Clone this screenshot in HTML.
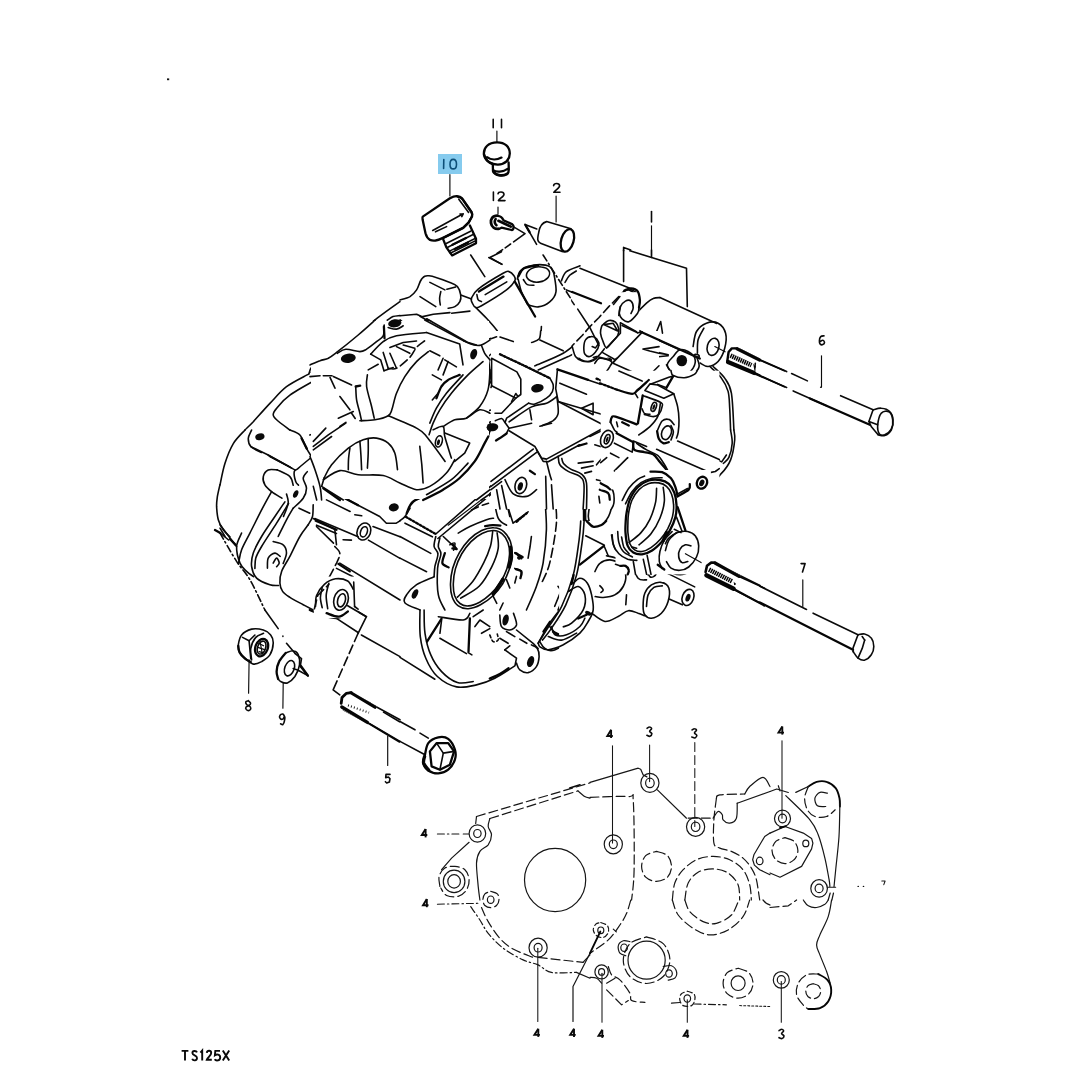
<!DOCTYPE html>
<html>
<head>
<meta charset="utf-8">
<title>TS125X Crankcase</title>
<style>
html,body{margin:0;padding:0;background:#fff;}
body{width:1082px;height:1082px;overflow:hidden;font-family:"Liberation Sans",sans-serif;}
svg{display:block;position:absolute;left:0;top:0;}
.l{fill:none;stroke:#0a0a0a;stroke-width:1.6;stroke-linecap:round;stroke-linejoin:round;}
.t{fill:none;stroke:#0a0a0a;stroke-width:1.15;stroke-linecap:round;stroke-linejoin:round;}
.b{fill:none;stroke:#050505;stroke-width:2.3;stroke-linecap:round;stroke-linejoin:round;}
.k{fill:#0a0a0a;stroke:none;}
.h{fill:none;stroke:#050505;stroke-width:3.3;stroke-linecap:round;stroke-linejoin:round;}
.f{fill:none;stroke:#0a0a0a;stroke-width:1.9;stroke-linecap:butt;stroke-linejoin:miter;}
.d{fill:none;stroke:#151515;stroke-width:1.1;stroke-linecap:butt;}
.n{fill:none;stroke:#0a0a0a;stroke-width:1.6;stroke-linecap:round;stroke-linejoin:round;}
.low .l{stroke-width:1.2;stroke:#161616;}
.low .b{stroke-width:1.9;}
.low .t{stroke-width:1.05;stroke:#161616;}
</style>
</head>
<body>
<svg width="1082" height="1082" viewBox="0 0 1082 1082">
<rect x="0" y="0" width="1082" height="1082" fill="#ffffff"/>
<!-- highlight -->
<rect x="438" y="154" width="24" height="20" fill="#86cbee"/>

<!-- ===== SECTION A: labels + top parts ===== -->
<g id="secA">
<!-- label 10 -->
<path class="n" style="stroke:#0d4f78" d="M443.8 159.6 L443.6 168.4 M453.2 159.4 C450.6 159.4 450 162 450 164.2 C450 166.8 450.8 168.9 453.2 168.9 C455.8 168.9 456.5 166.6 456.5 164.2 C456.5 161.6 455.8 159.4 453.2 159.4 Z"/>
<!-- label 11 -->
<path class="n" d="M493.2 119.4 L493.2 127.8 M501.5 119.4 L501.5 127.8"/>
<!-- label 12 -->
<path class="n" d="M493.4 192 L493.4 200.4 M498 193.8 C498.4 191.4 503.8 191.2 504 194.2 C504.1 196.6 499.6 198.4 498.4 200.6 L505 200.6"/>
<!-- label 2 -->
<path class="n" d="M553.6 185.6 C554 182.8 559.4 182.6 559.6 185.8 C559.7 188.2 555 190 553.8 192.3 L560 192.3"/>
<!-- leaders -->
<path class="t" d="M449.9 174.5 L449.9 196 M496.9 131 L496.9 142 M498 207 L498 213.8 M556.1 196 L556.1 222"/>

<!-- part 11 plug -->
<path class="b" d="M484 155 C483 147 489 142.5 497 142.4 C505 142.3 509.8 147 509.8 153.5 C509.8 160 505 164.5 498 164.6 C492 164.7 485.5 161.5 484 155 Z"/>
<path class="b" d="M484 154 C485 158.5 488 162.5 493 164.2 M487 157.2 C491 160.2 497 160 501.5 157.6"/>
<path class="b" d="M492.8 164.3 L493 171.2 C494.5 175.6 502 176.6 506.6 174.4 C508.4 173.4 508.9 171.4 508.8 169 L508.6 162.4 M493.2 170 C496 172.4 503 172.2 508 168.6"/>
<path class="b" d="M493.4 171.6 C496 175.6 503.6 176.4 507.6 173.4"/>

<!-- part 10 filler cap -->
<path class="b" d="M422.8 216.6 L449.9 198.3 C452.5 196.8 455 196 456.8 196.1 C459.4 196.4 461 197.2 462.1 198.3 L471.6 212.2 C472.4 213.6 472.4 215 472.1 216.2 L468.8 222.2 L463.2 227.7 L443.3 237.7 C440.5 239 438 240.2 435.5 240.5 C433.4 240.7 431.4 240.5 430 239.9 C427.6 238.6 426.2 236 425.5 233.3 L422.6 219.6 C422.4 218.4 422.4 217.4 422.8 216.6 Z"/>
<path class="b" d="M457.5 196.6 C460.2 197 461.8 198.2 462.8 199.6 L471.4 212 C472.4 213.8 472.4 215.4 471.8 216.8 L468.8 222.2"/>
<path class="b" d="M443.3 237.9 L463.2 227.9 L468.6 222.6"/>
<path class="l" d="M432.7 230.5 L463.2 213.8 L460 214 M463.2 213.8 L461.8 216.6 M435.5 231.8 L446.6 226.6 M458.8 199.2 L468.6 212.4"/>
<path class="b" d="M443.3 239.6 L446.4 247.4 L452.1 255.4 L476 243.2 L476 238.8 L469.9 225.5"/>
<path class="l" d="M445.2 244 L470.6 231.2 M446.8 247.8 L473.6 234.2 M449 251.4 L475.6 238.2 M450.2 253.2 L475.8 240.6"/>
<path class="b" d="M452.4 244.8 L466 238 M455 249 L468 242.6"/>

<!-- screw 12 -->
<path d="M497.6 215.6 C492.4 215.4 490.4 219.4 491 223 C491.6 227 495 229.2 498.6 228.8" fill="none" stroke="#050505" stroke-width="2.8" stroke-linecap="round"/>
<path class="b" d="M497.6 215.8 C500.6 216 502.6 218 503.4 220.2 L512.4 224.4 C514.2 225.6 514 229.8 511.6 230 L501.6 227.6 C500.6 228.4 499.6 228.8 498.6 228.8"/>
<path d="M495.6 219.2 C494.4 221.2 494.8 223.8 496.4 225.2 M498.4 220.8 L510.8 226.6" fill="none" stroke="#050505" stroke-width="2.6" stroke-linecap="round"/>
<path class="l" d="M513.2 226.6 L525 233.6 L513.6 241.8 M510.6 244 L505.2 247.8 M502.6 249.6 L497 253.4 M488.8 257.6 L502 264.3"/>

<!-- part 2 dowel -->
<path class="l" d="M546.6 221.6 C542.6 222.6 539.6 227 538.8 232.1 C538 235.6 537.6 238 537.8 239.9 C538 241.6 539 242.6 540.5 243.2 L562.1 251.6 M546.6 221.6 L571 228.8"/>
<ellipse class="b" cx="567.4" cy="240.4" rx="6.2" ry="11.6" transform="rotate(16 567.4 240.4)"/>
<path class="l" d="M525 224.4 L536.8 228.9 M525 224.4 L536.6 244.3"/>
<path class="b" d="M525.4 225 L529.6 232.2"/>
</g>

<!-- misc -->
<rect x="167" y="78.4" width="2.2" height="1.8" fill="#111"/>
<path fill="none" stroke="#0a0a0a" stroke-width="1.9" stroke-linecap="butt" stroke-linejoin="miter" d="M181.6 1050.9 H188.4 M185 1050.9 V1060.6 M197 1052.4 C196.2 1050.4 192.4 1050.3 192.4 1053 C192.4 1055.8 197 1055 197 1058 C197 1061 193 1061 192.2 1058.8 M200.4 1052.6 L202.2 1050.6 V1060.6 M206.8 1052.8 C207.2 1050.1 211.2 1050.1 211.2 1053 C211.2 1055.6 207.6 1057.4 206.8 1059.8 H211.8 M220 1050.9 H215.3 L214.9 1055.2 C216.6 1053.9 220.2 1054.2 220.2 1057.4 C220.2 1060.9 216 1061.1 214.6 1059.2 M222.8 1050.4 L229.2 1060.6 M229.2 1050.4 L222.8 1060.6"/>
<g id="t01">
<path class="l" d="M400.0 299.9C401.7 299.4 407.2 298.2 410.0 296.6C412.8 294.9 414.7 292.8 416.6 289.9C418.6 287.0 419.5 281.5 421.6 279.1C423.7 276.8 424.4 275.2 429.1 275.8C433.8 276.3 445.2 280.6 449.9 282.4C454.6 284.2 455.6 284.5 457.4 286.6C459.2 288.7 460.3 292.4 460.7 294.9C461.1 297.4 460.9 299.6 459.9 301.6C458.9 303.5 456.8 305.5 454.9 306.6C453.0 307.7 449.4 307.9 448.2 308.2"/>
<path class="l" d="M429.9 282.4L444.9 289.9"/>
<path class="l" d="M446.9 289.3L455.7 286.9"/>
<path class="l" d="M440.8 291.6C440.6 292.7 439.7 296.0 439.6 298.2C439.5 300.5 440.1 303.8 440.3 304.9"/>
<path class="l" d="M420.0 296.6L435.8 306.6"/>
<path class="l" d="M460.7 294.9L471.5 299.1"/>
<path class="l" d="M471.5 298.2C472.5 295.9 472.9 293.3 478.2 289.1C483.5 284.9 498.0 276.2 503.1 273.3C508.3 270.4 507.2 271.2 509.0 271.6C510.8 272.0 513.0 274.3 514.0 275.8C514.9 277.3 516.0 278.4 514.8 280.8C513.5 283.1 512.0 285.8 506.5 289.9C500.9 294.1 486.6 302.8 481.5 305.7C476.4 308.6 477.2 307.8 475.7 307.4C474.2 307.0 473.1 304.8 472.4 303.2C471.7 301.7 470.6 300.6 471.5 298.2Z"/>
<path class="b" d="M478.9 291.6L503.5 276.6"/>
<path class="l" d="M485.2 294.6L506.8 281.9"/>
<path class="l" d="M476.9 294.6C477.1 295.5 477.4 298.7 478.2 299.9C479.0 301.1 481.0 301.3 481.5 301.6"/>
<path class="l" d="M470.7 255.0L484.8 276.6"/>
<path class="l" d="M501.5 251.7L489.8 257.5L501.5 264.1"/>
<path class="l" d="M517.3 279.1C517.7 277.9 518.0 273.7 519.8 271.6C521.6 269.5 524.8 267.8 528.1 266.6C531.4 265.5 536.1 264.6 539.7 264.6C543.3 264.6 547.4 265.2 549.7 266.6C552.1 268.1 553.2 272.2 553.9 273.3"/>
<path class="b" d="M518.4 276.3C519.4 275.0 520.7 270.1 523.9 268.3C527.2 266.5 535.7 265.8 538.1 265.3"/>
<path class="l" d="M526.4 275.0C526.6 272.9 528.9 270.0 531.4 268.6C533.9 267.3 538.5 266.6 541.4 267.0C544.3 267.3 547.8 269.0 548.9 270.8C550.0 272.5 549.6 275.6 548.1 277.4C546.5 279.3 542.7 281.4 539.7 281.9C536.8 282.5 532.8 281.9 530.6 280.8C528.4 279.6 526.3 277.0 526.4 275.0Z"/>
<path class="l" d="M523.4 279.6C524.1 280.4 525.5 283.7 527.3 284.6C529.0 285.5 532.8 285.2 533.9 285.3"/>
<path class="l" d="M518.1 279.1C518.7 281.2 519.9 287.4 521.4 291.6C523.0 295.7 526.3 302.0 527.3 304.1"/>
<path class="l" d="M528.1 304.9C529.8 305.2 534.5 307.4 538.1 306.9C541.7 306.4 546.7 304.5 549.7 301.9C552.7 299.4 555.4 296.4 556.0 291.6C556.7 286.8 554.2 276.3 553.9 273.3"/>
<path class="b" d="M514.8 281.6L535.1 316.5"/>
<path class="l" stroke-dasharray="7 3 1.5 3" d="M543.1 255.0L580.0 313.2"/>
<path class="l" d="M561.4 280.8C562.2 279.3 563.3 274.1 566.4 271.6C569.5 269.1 577.7 266.8 580.0 265.8"/>
<path class="l" d="M565.0 282.4C565.8 281.2 567.8 277.2 569.7 275.3C571.6 273.4 575.2 271.7 576.3 271.0"/>
<path class="l" d="M566.4 289.9L580.0 295.2"/>
<path class="l" d="M475.7 307.4C477.5 309.2 483.6 315.2 486.5 318.2C489.4 321.3 491.4 323.6 493.2 325.7C495.0 327.8 496.6 329.9 497.3 330.7"/>
<path class="l" d="M451.6 313.2L469.9 311.1"/>
<path class="l" d="M481.5 341.8L494.0 337.3"/>
<path class="l" d="M501.5 336.5L514.8 342.3"/>
<path class="l" d="M528.9 344.0C530.5 343.3 536.1 341.2 538.1 339.8C540.0 338.4 540.0 337.9 540.6 335.7C541.1 333.5 541.3 328.0 541.4 326.5"/>
<path class="l" d="M541.4 339.8L561.4 349.8"/>
<path class="l" d="M400.0 315.7L416.6 314.2L421.6 316.5"/>
<path class="l" d="M420.0 316.2L464.0 341.2L473.2 345.2L479.9 344.2"/>
<path class="l" d="M426.6 318.9L466.5 341.8"/>
<path class="l" d="M421.6 316.9L433.3 314.2L449.9 312.6"/>
<ellipse class="k" cx="473.2" cy="354.0" rx="3.2" ry="4.7" transform="rotate(20.0 473.2 354.0)"/>
<path class="l" d="M479.9 344.2C480.3 345.4 481.2 349.7 482.3 351.8C483.5 353.9 486.1 355.3 486.8 356.8C487.5 358.3 487.9 359.2 486.5 360.6C485.1 362.0 479.6 364.4 478.2 365.1"/>
<path class="l" d="M456.6 345.7L461.9 364.8"/>
<path class="l" d="M488.2 356.5L491.2 381.4L514.8 394.7L519.8 391.4L520.6 376.4L516.5 369.8L491.2 354.0Z"/>
<path class="b" d="M493.2 353.5L516.5 365.6L554.7 383.1"/>
<path class="l" d="M491.2 381.4L499.8 376.4L506.5 389.7"/>
<path class="l" d="M514.8 394.7C514.5 394.2 512.8 392.1 513.1 391.4C513.4 390.7 515.9 390.7 516.5 390.6"/>
<ellipse class="k" cx="538.1" cy="388.9" rx="6.7" ry="4.2" transform="rotate(-10.0 538.1 388.9)"/>
<path class="l" d="M549.7 380.1C550.4 381.4 553.9 385.6 553.9 388.1C553.9 390.6 552.1 393.1 549.7 395.1C547.4 397.1 542.8 399.5 539.7 400.1C536.7 400.6 532.8 398.7 531.4 398.4"/>
<path class="l" d="M506.5 416.4L531.4 399.7"/>
<path class="l" d="M509.0 422.2L533.1 407.2L543.1 403.9"/>
<path class="l" d="M506.5 416.4C506.2 416.9 504.4 418.7 504.8 419.7C505.2 420.7 508.3 421.8 509.0 422.2"/>
<path class="l" d="M554.7 383.1L557.2 381.4L557.2 369.8L580.0 378.1"/>
<path class="b" d="M557.2 368.4L580.0 377.3"/>
<path class="l" d="M557.2 383.1L580.0 391.4"/>
<path class="l" d="M553.9 396.4L580.0 409.7"/>
<path class="l" d="M553.9 396.4C554.4 398.6 557.1 405.8 557.2 409.7C557.3 413.6 556.8 417.2 554.7 419.7C552.6 422.2 546.4 423.8 544.7 424.7"/>
<path class="l" d="M531.4 408.0L533.1 421.3"/>
<path class="l" d="M513.1 426.3L533.1 423.0"/>
<ellipse class="k" cx="493.2" cy="426.3" rx="6.7" ry="3.7" transform="rotate(-15.0 493.2 426.3)"/>
<path class="l" d="M486.5 430.0C486.5 429.1 485.4 426.1 486.5 424.7C487.6 423.2 490.9 421.6 493.2 421.3C495.4 421.1 498.3 421.6 499.8 423.0C501.3 424.5 501.9 428.8 502.3 430.0"/>
<path class="l" d="M486.8 360.6C485.7 362.2 483.8 365.5 479.9 369.8C475.9 374.1 468.2 381.4 463.2 386.4C458.2 391.4 453.5 395.3 449.9 399.7C446.3 404.2 443.5 408.0 441.6 413.0C439.6 418.1 438.8 427.2 438.3 430.0"/>
<path class="l" d="M478.2 365.1C476.2 367.3 471.3 373.7 466.5 378.1C461.8 382.5 454.6 386.4 449.9 391.4C445.2 396.4 441.3 401.6 438.3 408.0C435.2 414.5 432.7 426.3 431.6 430.0"/>
<path class="l" d="M486.5 388.1L471.5 413.0L466.5 418.0"/>
<path class="l" d="M466.5 418.0C463.8 419.1 453.8 423.3 449.9 424.7C446.0 426.1 444.6 425.5 443.3 426.3C441.9 427.2 441.9 429.4 441.6 430.0"/>
<path class="l" d="M491.2 381.4L486.5 388.1"/>
<path class="l" d="M506.5 396.4L499.8 408.0L478.2 413.0"/>
<path class="l" d="M514.8 394.7C513.4 396.7 509.0 403.0 506.5 406.4C504.0 409.7 499.8 413.0 499.8 414.7C499.8 416.4 505.4 416.1 506.5 416.4"/>
<path class="l" d="M400.0 336.5L425.0 333.2L456.6 345.7L462.4 344.8"/>
<path class="l" d="M400.0 343.2L423.3 340.7"/>
<path class="l" d="M429.9 351.5L400.0 388.1"/>
<path class="l" d="M439.9 358.1L430.8 376.4"/>
<path class="l" d="M430.8 351.5L454.9 359.8"/>
<path class="l" d="M448.2 364.8L459.1 369.4"/>
<path class="l" d="M429.9 376.4L443.3 381.4"/>
<path class="l" d="M443.3 381.4L432.4 400.6"/>
<path class="l" d="M449.9 383.1L441.6 399.7"/>
<path class="l" d="M403.3 343.2L415.0 349.8"/>
<path class="l" d="M400.0 349.8L410.0 354.8"/>
<path class="l" d="M416.6 343.2L410.0 353.1"/>
<path class="l" d="M400.0 366.5L413.3 351.5"/>
<path class="l" d="M400.0 319.9C400.6 320.4 403.0 322.1 403.3 323.2C403.6 324.3 401.9 326.0 401.7 326.5"/>
<path class="l" d="M431.6 369.8L435.8 364.8"/>
<path class="l" d="M441.6 378.1L448.2 373.1"/>
</g>
<g id="t02">
<path class="l" d="M400.0 301.6C396.2 304.3 385.0 312.1 377.2 318.2C369.4 324.4 360.2 332.6 353.1 338.5C346.0 344.4 339.2 349.9 334.8 353.5C330.4 357.0 329.5 358.1 326.5 359.8C323.4 361.5 319.0 362.1 316.5 363.5C313.9 364.8 312.4 366.1 311.2 367.8C309.9 369.4 309.4 372.5 309.0 373.4"/>
<path class="l" d="M309.0 373.9C305.3 376.1 293.1 381.8 286.5 386.7C280.0 391.7 275.5 397.6 269.9 403.4C264.4 409.2 257.4 417.2 253.3 421.7C249.1 426.1 246.3 428.6 245.0 430.0"/>
<path class="l" d="M319.8 377.6C314.8 380.5 297.1 389.9 289.9 395.1C282.7 400.2 279.3 405.1 276.6 408.4C273.8 411.6 273.2 412.8 273.2 414.7C273.3 416.6 274.1 417.5 276.9 420.0C279.7 422.6 287.7 428.3 289.9 430.0"/>
<path class="l" d="M311.2 372.3C313.7 371.3 322.5 368.3 326.5 366.5C330.4 364.6 332.5 363.3 334.8 361.1C337.1 359.0 337.3 355.4 340.1 353.5C342.9 351.5 347.3 350.1 351.4 349.5C355.5 348.9 360.9 350.6 364.7 349.8C368.6 349.0 371.5 347.1 374.7 344.8C377.9 342.6 379.6 339.0 383.9 336.2C388.1 333.3 397.3 329.2 400.0 327.9"/>
<path class="l" d="M319.8 377.6L329.8 375.6"/>
<ellipse class="k" cx="348.9" cy="358.1" rx="7.5" ry="4.7" transform="rotate(-12.0 348.9 358.1)"/>
<ellipse class="k" cx="394.7" cy="324.0" rx="5.3" ry="4.0" transform="rotate(-8.0 394.7 324.0)"/>
<path class="l" d="M387.2 320.2C388.2 319.6 390.9 317.3 393.0 316.5C395.1 315.8 398.8 315.7 400.0 315.5"/>
<path class="l" d="M383.9 324.9C383.7 326.2 382.8 330.9 383.0 333.2C383.2 335.5 384.7 337.6 385.0 338.5"/>
<path class="l" d="M369.7 355.1C371.4 353.7 374.7 349.8 379.7 346.5C384.8 343.2 396.6 337.1 400.0 335.2"/>
<path class="l" d="M370.6 355.1C372.1 356.5 377.3 360.4 379.7 363.1C382.1 365.9 383.9 370.3 384.7 371.8"/>
<path class="l" d="M383.0 353.5L400.0 344.8"/>
<path class="l" d="M382.2 355.1L386.7 365.1"/>
<path class="l" d="M386.4 370.1L393.0 366.5"/>
<path class="l" d="M389.7 353.5L400.0 370.1"/>
<path class="l" d="M368.9 370.1L378.0 364.8"/>
<path class="l" d="M366.7 376.4C366.7 377.5 366.3 381.1 366.4 383.1C366.5 385.1 367.2 387.5 367.4 388.4"/>
<path class="l" d="M329.8 376.8L336.5 391.4"/>
<path class="l" d="M339.8 396.4L346.8 406.4L351.8 410.0"/>
<path class="l" d="M334.8 376.8L351.4 384.8"/>
<path class="b" d="M356.4 385.7L363.4 386.4"/>
<path class="l" d="M355.6 388.1L358.1 399.7L361.7 421.3"/>
<path class="l" d="M366.4 388.4L373.9 418.0"/>
<path class="l" d="M339.8 418.0L351.4 413.4"/>
<path class="l" d="M341.8 424.7L346.8 423.0"/>
<path class="l" d="M351.4 409.7L354.8 406.4"/>
<path class="l" d="M361.7 421.3L386.4 419.7L400.0 426.3"/>
<path class="l" d="M386.4 419.7C387.2 418.0 389.1 413.6 391.3 409.7C393.6 405.8 398.6 398.6 400.0 396.4"/>
<path class="l" d="M400.0 416.4L388.0 420.0"/>
<path class="l" d="M326.5 428.8L323.1 430.0"/>
</g>
<g id="t03">
<path class="l" d="M245.0 430.0C243.0 432.3 236.6 438.1 233.3 443.6C230.0 449.2 227.2 456.4 225.0 463.3C222.8 470.1 220.8 481.3 220.0 484.9"/>
<ellipse class="k" cx="259.9" cy="436.7" rx="4.7" ry="3.3" transform="rotate(-15.0 259.9 436.7)"/>
<path class="l" d="M251.6 430.0C251.1 431.4 248.4 435.5 248.3 438.3C248.2 441.1 248.7 444.3 250.9 446.6C253.2 449.0 259.8 451.5 261.6 452.5"/>
<path class="l" d="M250.9 446.6L268.2 455.0L289.9 466.9"/>
<path class="l" d="M269.9 456.6L294.9 469.9"/>
<path class="l" d="M289.9 430.0C291.5 430.8 297.1 431.9 299.9 435.0C302.6 438.0 304.5 444.6 306.5 448.3C308.5 452.0 310.9 455.5 311.8 457.0"/>
<path class="b" d="M301.5 438.3L306.8 448.6"/>
<path class="l" d="M311.8 457.0C309.6 458.8 301.1 465.8 298.2 468.3C295.2 470.8 294.6 469.7 294.2 471.9C293.8 474.1 295.0 479.4 295.7 481.6C296.4 483.8 298.0 484.6 298.5 485.2"/>
<path class="b" d="M311.8 457.9C313.2 461.9 318.3 476.5 319.8 481.6C321.3 486.7 320.6 487.4 320.8 488.6"/>
<path class="l" d="M307.3 471.6C306.6 472.7 303.3 475.5 303.2 478.2C303.0 481.0 306.5 484.9 306.5 488.2C306.5 491.6 305.4 494.9 303.2 498.2C301.0 501.5 294.9 506.5 293.2 508.2"/>
<path class="l" d="M313.2 478.2L318.2 491.9"/>
<path class="l" d="M277.4 469.9C275.9 469.9 270.6 468.8 268.2 469.9C265.9 471.0 263.8 474.1 263.3 476.6C262.7 479.1 263.5 482.4 264.9 484.9C266.3 487.4 268.7 489.3 271.6 491.6C274.4 493.8 280.2 497.1 281.9 498.2"/>
<path class="l" d="M277.4 469.9C279.5 471.0 287.2 474.0 289.9 476.6C292.5 479.1 292.6 483.8 293.2 485.2"/>
<ellipse class="k" cx="295.7" cy="494.0" rx="2.3" ry="4.0" transform="rotate(25.0 295.7 494.0)"/>
<path class="l" d="M286.5 494.0C286.8 495.6 288.7 499.5 288.2 503.2C287.7 506.9 284.3 514.3 283.5 516.5"/>
<path class="l" d="M271.6 491.6C269.9 494.6 265.2 502.9 261.6 509.9C258.0 516.8 253.3 526.5 249.9 533.1C246.6 539.8 243.5 544.8 241.6 549.8C239.7 554.8 239.1 560.9 238.6 563.1"/>
<path class="l" d="M284.9 501.9C283.2 504.3 278.8 510.7 274.9 516.5C271.0 522.3 265.2 530.4 261.6 536.5C258.0 542.6 254.9 548.1 253.3 553.1C251.6 558.1 251.1 562.3 251.6 566.4C252.2 570.6 253.5 575.0 256.6 578.1C259.6 581.1 266.2 583.5 269.9 584.7C273.6 586.0 277.1 585.4 278.6 585.5"/>
<path class="l" d="M288.5 503.5C286.5 506.8 281.1 516.0 276.6 523.2C272.1 530.3 265.1 540.6 261.6 546.5C258.1 552.3 256.9 554.4 255.8 558.1C254.7 561.8 255.1 566.7 254.9 568.4"/>
<path class="l" d="M293.2 508.2C292.1 510.1 289.0 515.1 286.5 519.8C284.0 524.5 279.6 533.7 278.2 536.5"/>
<path class="l" d="M267.4 568.1C267.6 566.4 267.0 560.6 268.2 558.1C269.5 555.6 272.9 553.4 274.9 553.1C276.9 552.8 279.3 555.9 280.2 556.4"/>
<path class="l" d="M273.2 563.1C273.8 562.3 275.6 558.1 276.6 558.1C277.6 558.1 279.2 561.6 279.2 563.1C279.2 564.5 277.0 566.1 276.6 566.7"/>
<path class="l" d="M273.2 541.5C274.9 542.0 281.0 542.8 283.2 544.8C285.4 546.7 286.5 550.0 286.5 553.1C286.5 556.2 283.8 561.7 283.2 563.4"/>
<path class="l" d="M308.2 524.8C306.8 526.8 302.9 531.2 299.9 536.5C296.8 541.7 292.9 550.6 289.9 556.4C286.8 562.3 283.2 567.0 281.6 571.4C279.9 575.8 279.7 579.7 279.9 583.0C280.1 586.4 280.9 589.0 282.6 591.4C284.2 593.8 286.4 595.1 289.9 597.4C293.3 599.6 299.3 602.6 303.2 604.7C307.1 606.8 311.5 609.1 313.2 610.0"/>
<path class="l" d="M313.2 518.5L334.8 529.3L336.5 544.8"/>
<path class="l" d="M316.5 526.5L333.5 543.1"/>
<path class="l" stroke-dasharray="9 4" d="M334.8 546.5C335.6 547.6 339.5 550.3 339.8 553.1C340.1 555.9 339.2 557.3 336.5 563.1C333.7 568.9 326.5 582.5 323.1 588.0C319.8 593.6 317.9 592.7 316.5 596.4C315.1 600.0 315.1 607.7 314.8 610.0"/>
<path class="l" d="M323.1 479.9C325.4 476.3 331.5 464.4 336.5 458.3C341.4 452.2 347.5 446.8 353.1 443.3C358.6 439.8 364.7 438.0 369.7 437.5C374.7 436.9 379.1 437.6 383.0 440.0C386.9 442.3 390.7 446.4 393.0 451.6C395.3 456.9 396.1 468.3 396.7 471.6"/>
<path class="l" d="M349.8 446.6C349.4 448.6 348.0 454.6 347.8 458.3C347.5 461.9 348.3 466.9 348.4 468.6"/>
<path class="l" d="M359.7 441.6C360.0 444.1 361.1 451.8 361.4 456.6C361.7 461.4 361.4 468.0 361.4 470.3"/>
<path class="l" d="M368.1 440.0C368.4 442.5 369.8 449.7 370.1 455.0C370.3 460.2 369.8 468.8 369.7 471.6"/>
<path class="l" d="M323.1 481.9C325.9 480.2 334.0 472.8 339.8 471.6C345.6 470.4 350.9 474.1 358.1 474.9C365.3 475.7 376.0 475.1 383.0 476.6C390.0 478.0 397.2 482.4 400.0 483.6"/>
<path class="l" d="M321.5 485.2L358.1 505.2L379.7 516.5L386.4 523.2L396.3 523.2L400.0 520.8"/>
<path class="b" d="M323.5 486.9L358.1 505.2"/>
<ellipse class="k" cx="393.8" cy="507.4" rx="5.0" ry="4.0" transform="rotate(-10.0 393.8 507.4)"/>
<path class="l" d="M326.5 499.9L350.1 511.5"/>
<path class="l" d="M354.8 514.8L361.7 515.8"/>
<ellipse class="l" cx="363.9" cy="531.5" rx="6.7" ry="8.7" transform="rotate(20.0 363.9 531.5)"/>
<ellipse class="l" cx="363.9" cy="531.8" rx="3.3" ry="5.3" transform="rotate(20.0 363.9 531.8)"/>
<path class="l" d="M314.8 518.5L358.1 536.8"/>
<path class="b" d="M315.7 520.7L336.5 529.8"/>
<path class="l" d="M316.5 525.2L336.5 533.5"/>
<path class="l" d="M343.1 539.8L351.4 540.1"/>
<path class="l" d="M368.4 540.1L400.0 558.4"/>
<path class="l" d="M373.0 526.5L400.0 536.8"/>
<path class="l" d="M339.8 563.1L400.0 600.0"/>
<path class="b" d="M338.4 563.9L349.8 571.4"/>
<path class="l" d="M336.5 568.4L353.1 576.7"/>
<path class="l" d="M313.2 504.9C313.0 506.8 313.3 513.2 312.5 516.5C311.7 519.8 308.9 523.4 308.2 524.8"/>
<path class="l" d="M299.0 508.2L309.8 513.2"/>
<path class="l" d="M309.8 435.0L326.5 430.0"/>
<path class="l" d="M313.2 440.0L333.1 430.0"/>
<path class="l" d="M313.2 446.6L339.8 430.0"/>
<path class="l" d="M334.8 606.3C335.1 604.7 335.1 599.1 336.5 596.4C337.8 593.6 340.9 590.3 343.1 589.7C345.3 589.1 348.7 592.5 349.8 593.0"/>
<path class="l" d="M341.4 603.0C341.9 601.9 342.8 597.2 343.9 596.4C345.0 595.5 347.7 596.6 348.1 598.0C348.5 599.4 346.7 603.6 346.4 604.7"/>
<path class="l" d="M339.8 579.7C341.2 580.0 345.9 579.7 348.1 581.4C350.3 583.0 352.5 586.1 353.1 589.7C353.6 593.3 351.7 600.8 351.4 603.0"/>
<path class="l" d="M354.8 579.7L355.7 610.0"/>
<path class="l" d="M326.5 610.0C326.7 608.0 327.0 601.4 328.1 598.0C329.2 594.6 332.3 591.1 333.1 589.7"/>
<path class="l" stroke-dasharray="7 3 1.5 3" d="M220.0 533.1C222.8 537.9 231.6 553.7 236.6 561.4C241.6 569.2 245.2 571.6 249.9 579.7C254.7 587.8 262.4 605.0 264.9 610.0"/>
<path class="l" d="M220.0 524.8L230.0 538.1L236.6 546.5"/>
<path class="b" d="M230.0 539.0L235.8 545.1"/>
<path class="l" d="M241.6 533.1C240.8 535.4 236.9 541.5 236.6 546.5C236.4 551.4 238.3 558.9 240.0 563.1C241.6 567.2 244.3 569.1 246.6 571.4C248.9 573.7 252.4 575.8 253.6 576.7"/>
<path class="l" d="M220.0 528.2L225.0 536.5"/>
</g>
<g id="t04">
<path class="l" d="M400.0 433.3L420.0 440.8"/>
<path class="l" d="M420.0 440.8C420.3 444.6 421.7 456.2 422.0 463.3C422.2 470.3 421.7 479.9 421.6 483.2"/>
<path class="l" d="M400.0 484.9C402.8 485.6 413.0 488.8 416.6 489.1C420.2 489.3 416.4 489.2 421.6 486.6C426.9 483.9 440.8 479.1 448.2 473.3C455.7 467.4 462.8 456.2 466.5 451.6C470.3 447.1 472.1 448.9 470.7 445.8C469.3 442.8 462.5 436.0 458.2 433.3C453.9 430.7 447.1 430.6 444.9 430.0"/>
<path class="l" d="M443.3 430.0C443.7 432.5 444.1 440.3 445.7 445.0C447.4 449.7 452.5 454.9 453.2 458.3C453.9 461.7 450.5 464.1 449.9 465.3"/>
<ellipse class="k" cx="438.6" cy="442.0" rx="1.7" ry="2.7" transform="rotate(20.0 438.6 442.0)"/>
<path class="l" d="M435.8 436.7C436.5 436.5 438.6 435.5 439.9 435.8C441.2 436.2 443.0 438.2 443.6 438.7"/>
<path class="b" d="M406.7 513.2C407.8 511.2 408.9 505.1 413.3 501.5C417.7 498.0 425.8 495.5 433.3 491.9C440.8 488.3 451.3 484.7 458.2 479.9C465.2 475.1 470.4 469.1 474.9 463.3C479.3 457.4 482.3 450.5 484.8 445.0C487.3 439.4 489.0 432.5 489.8 430.0"/>
<path class="l" d="M493.2 438.3C495.4 437.5 502.6 434.2 506.5 433.3C510.4 432.5 511.7 431.1 516.5 433.3C521.2 435.5 530.6 442.8 534.8 446.6C538.9 450.5 539.5 454.6 541.4 456.6C543.3 458.6 540.0 461.1 546.4 458.6C552.8 456.2 574.4 444.8 580.0 442.0"/>
<path class="b" d="M498.2 437.0L506.8 432.7"/>
<path class="l" d="M543.4 460.9L580.0 445.3"/>
<path class="l" d="M435.8 534.0L533.9 448.6"/>
<path class="l" d="M437.9 538.5L538.1 455.0"/>
<path class="t" d="M448.2 525.2L498.2 486.9"/>
<path class="b" stroke-dasharray="2 2" d="M405.7 516.8L435.8 534.0"/>
<path class="l" d="M405.0 523.2L432.4 536.8"/>
<path class="l" d="M400.0 536.5L430.8 553.4"/>
<path class="l" d="M400.0 558.1L426.6 571.7"/>
<path class="l" d="M400.0 520.7C400.8 520.0 403.3 518.6 405.0 516.5C406.7 514.4 409.1 509.6 410.0 508.2"/>
<path class="l" d="M435.8 536.5C435.5 538.1 433.7 543.5 434.1 546.5C434.5 549.4 437.8 550.6 437.9 553.9C438.1 557.3 435.6 562.6 434.9 566.4C434.3 570.2 434.2 575.0 434.1 576.7"/>
<path class="l" d="M434.1 576.7C431.2 578.1 421.2 581.7 416.6 584.7C412.1 587.7 408.6 591.6 406.7 594.7C404.7 597.7 402.8 600.5 405.0 603.0C407.2 605.6 417.5 608.8 420.0 610.0"/>
<ellipse class="k" cx="415.0" cy="593.9" rx="2.7" ry="5.0" transform="rotate(25.0 415.0 593.9)"/>
<path class="l" d="M439.9 538.1C439.6 539.5 438.1 543.8 438.3 546.5C438.4 549.1 441.0 550.3 440.9 553.9C440.8 557.5 438.0 561.3 437.6 568.1C437.2 574.9 437.0 587.7 438.3 594.7C439.5 601.7 443.8 607.4 444.9 610.0"/>
<path class="l" d="M443.3 536.5L456.6 549.1"/>
<path class="b" d="M452.9 544.8L456.6 549.1L452.4 548.4"/>
<path class="l" d="M449.9 544.8C450.7 544.5 454.3 542.2 454.9 543.1C455.5 544.0 453.8 548.9 453.6 550.1"/>
<path class="b" d="M444.9 553.1C444.5 554.8 441.8 560.7 442.4 563.1C443.0 565.5 447.6 566.7 448.6 567.4"/>
<path class="l" d="M544.7 496.5C545.0 502.1 546.7 518.7 546.4 529.8C546.1 540.9 544.7 553.7 543.1 563.1C541.4 572.5 539.2 578.6 536.4 586.4C533.6 594.2 528.1 606.1 526.4 610.0"/>
<path class="l" stroke-dasharray="9 4" d="M554.7 496.5C555.0 501.0 557.2 512.1 556.4 523.2C555.5 534.3 552.2 553.0 549.7 563.1C547.2 573.1 542.8 580.0 541.4 583.4"/>
<path class="l" d="M531.4 536.5C531.2 538.1 530.6 542.8 530.1 546.5C529.5 550.1 528.4 556.2 528.1 558.1"/>
<path class="l" d="M580.0 526.5C579.7 530.4 579.7 540.9 578.0 549.8C576.3 558.7 573.0 569.7 569.7 579.7C566.4 589.8 560.0 605.0 558.0 610.0"/>
<path class="l" d="M576.3 523.2C575.9 527.6 575.5 540.9 573.8 549.8C572.2 558.7 569.5 567.0 566.4 576.4C563.2 585.8 556.7 601.3 554.7 606.3"/>
<ellipse class="l" cx="521.4" cy="483.2" rx="6.3" ry="9.1" transform="rotate(15.0 521.4 483.2)"/>
<ellipse class="k" cx="520.4" cy="484.2" rx="2.0" ry="2.7" transform="rotate(10.0 520.4 484.2)"/>
<path class="b" d="M528.1 471.6L535.1 474.9"/>
<path class="l" d="M506.5 489.9C508.1 490.9 512.3 494.8 516.5 495.9C520.6 497.0 527.8 497.3 531.4 496.5C535.1 495.8 537.2 492.4 538.4 491.6"/>
<path class="l" d="M501.5 487.4L513.1 523.2L528.1 511.8"/>
<path class="l" d="M503.5 488.6L509.8 516.5"/>
<path class="l" d="M493.2 494.9C494.0 498.8 495.9 513.1 498.2 518.2C500.4 523.2 505.1 524.0 506.5 525.2"/>
<path class="b" stroke-dasharray="2 2" d="M516.5 521.8L526.8 513.2"/>
<path class="l" d="M458.2 533.1C460.2 532.0 465.2 528.7 469.9 526.5C474.6 524.3 482.6 521.2 486.5 519.8C490.4 518.4 492.3 518.4 493.5 518.2"/>
<path class="l" d="M471.5 509.9L478.2 506.9"/>
<path class="l" d="M482.3 505.2L488.5 503.2"/>
<path class="l" d="M546.4 463.3L549.7 476.9"/>
<path class="l" d="M559.7 456.6C560.8 458.6 563.0 465.2 566.4 468.3C569.7 471.4 577.7 474.1 580.0 475.2"/>
<path class="l" d="M566.4 453.3L573.0 450.3"/>
<path class="l" d="M543.1 479.9L549.7 475.2"/>
<path class="l" d="M539.7 488.6L543.4 486.6"/>
<ellipse class="k" cx="550.6" cy="483.6" rx="1.2" ry="0.8" transform="rotate(0.0 550.6 483.6)"/>
<path class="b" d="M516.5 553.4L521.4 558.4"/>
<path class="l" d="M514.8 568.4C515.8 568.8 519.5 569.5 520.6 570.6C521.7 571.7 521.3 574.3 521.4 575.1"/>
<ellipse class="k" cx="518.9" cy="558.1" rx="2.0" ry="1.5" transform="rotate(30.0 518.9 558.1)"/>
<path class="l" d="M516.5 576.4L514.8 583.0"/>
<path class="l" d="M506.5 579.7L509.8 588.0"/>
<path class="l" d="M493.2 596.4L496.8 603.3"/>
<path class="l" d="M499.8 610.0L503.1 603.0"/>
<path class="l" d="M558.0 586.4C559.4 587.8 562.7 594.1 566.4 594.7C570.0 595.2 577.7 590.5 580.0 589.7"/>
<path class="l" d="M573.0 589.7L580.0 586.4"/>
</g>
<g id="t05">
<path class="l" d="M623.6 250.0L623.6 281.6"/>
<path class="l" d="M629.9 250.8L686.5 268.3L687.3 306.6"/>
<path class="l" d="M651.5 250.0L651.5 257.5"/>
<path class="l" d="M580.0 268.3L629.9 288.3"/>
<path class="l" d="M629.9 289.1C631.2 289.8 635.9 291.2 637.4 293.6C638.9 295.9 639.5 299.7 639.1 303.2C638.6 306.8 636.7 311.8 634.9 314.9C633.1 318.0 629.4 320.7 628.2 321.9"/>
<path class="l" d="M623.3 304.9C623.8 304.1 625.2 300.7 626.6 299.9C628.0 299.1 630.5 298.8 631.6 299.9C632.7 301.0 633.5 304.3 633.2 306.6C633.0 308.8 630.5 312.4 629.9 313.5"/>
<path class="l" stroke-dasharray="7 3 1.5 3" d="M580.0 294.9L601.6 303.6"/>
<path class="l" d="M580.0 311.6L596.6 346.5"/>
<path class="l" d="M636.6 294.9C635.2 294.1 631.0 289.9 628.2 289.9C625.5 289.9 622.4 292.4 619.9 294.9C617.4 297.5 614.4 303.5 613.3 305.2"/>
<path class="l" d="M613.3 305.2C611.9 307.1 607.2 312.7 605.0 316.5C602.7 320.4 600.6 324.3 600.0 328.2C599.3 332.1 600.8 337.9 601.0 339.8"/>
<path class="l" d="M583.3 353.1C583.2 351.5 581.7 345.9 582.5 343.2C583.3 340.4 586.2 337.3 588.3 336.5C590.5 335.7 594.1 337.9 595.3 338.2"/>
<path class="l" d="M590.0 348.2C590.5 347.3 592.2 343.1 593.3 343.2C594.4 343.2 596.1 347.6 596.6 348.5"/>
<path class="l" d="M580.0 336.5C581.1 335.1 583.6 331.0 586.7 328.2C589.7 325.4 596.4 321.3 598.3 319.9"/>
<path class="l" d="M605.0 323.2C606.1 322.6 609.7 318.8 611.6 319.9C613.5 321.0 617.7 325.7 616.6 329.9C615.5 334.0 607.4 341.4 605.0 344.8C602.5 348.2 602.2 349.3 601.6 350.1"/>
<path class="l" d="M596.6 346.5L602.6 350.1"/>
<path class="l" d="M605.0 324.9L610.9 328.2L611.6 321.5"/>
<path class="l" d="M617.4 299.9C617.7 301.3 619.4 305.5 619.1 308.2C618.8 311.0 615.8 314.0 615.8 316.5C615.8 319.0 618.5 322.1 619.1 323.2"/>
<path class="l" d="M629.9 321.9C631.0 320.4 633.8 316.3 636.6 313.2C639.3 310.1 643.8 305.7 646.5 303.2C649.3 300.8 651.0 299.5 653.2 298.6C655.4 297.6 658.7 297.7 659.9 297.6"/>
<path class="l" d="M659.9 297.6L716.7 323.5"/>
<path class="b" d="M622.4 323.5L699.8 358.5"/>
<path class="l" d="M693.1 346.5C693.7 344.0 694.2 335.4 696.5 331.5C698.7 327.6 702.8 324.6 706.4 323.2C710.0 321.8 714.9 321.5 718.1 323.2C721.3 324.9 724.5 329.0 725.6 333.2C726.7 337.3 726.0 343.4 724.7 348.2C723.5 352.9 720.9 358.4 718.1 361.5C715.3 364.5 711.1 366.2 708.1 366.5C705.1 366.7 701.4 363.7 700.1 363.1"/>
<ellipse class="l" cx="713.1" cy="346.8" rx="5.8" ry="8.7" transform="rotate(15.0 713.1 346.8)"/>
<path class="l" d="M703.9 328.2C703.0 330.1 699.2 335.7 698.1 339.8C697.0 344.0 697.6 350.9 697.4 353.1"/>
<path class="l" d="M656.5 331.8L660.7 321.5L662.5 333.2"/>
<path class="t" d="M714.8 346.5L725.1 351.8"/>
<path class="l" d="M728.1 353.1L734.7 348.2L760.0 359.8"/>
<path class="l" d="M728.1 353.1L729.1 360.1L760.0 375.1"/>
<path class="b" d="M730.6 355.6L754.7 366.8"/>
<path class="b" d="M730.6 358.1L753.0 368.4"/>
<path class="l" d="M622.4 324.2L643.2 333.2L679.8 349.8"/>
<path class="l" d="M643.2 333.2L610.8 366.5L609.9 373.4"/>
<path class="l" d="M629.9 321.9L601.6 356.5L590.0 373.4"/>
<path class="l" d="M595.0 358.1L603.3 356.5L610.8 366.5"/>
<path class="l" d="M595.0 358.1L609.9 364.8"/>
<path class="l" d="M610.8 366.5L649.9 381.4L636.6 393.1L629.9 394.7L593.3 383.1L590.0 374.1"/>
<path class="l" d="M649.9 381.4L666.5 378.1L674.8 375.1"/>
<path class="l" d="M640.7 348.2L668.2 354.8L649.9 351.8L658.2 356.8L668.2 355.8"/>
<ellipse class="k" cx="681.8" cy="360.6" rx="5.3" ry="5.7" transform="rotate(0.0 681.8 360.6)"/>
<path class="l" d="M679.8 349.8C682.3 349.0 685.6 350.1 688.1 351.5C690.6 352.9 694.0 355.4 694.8 358.1C695.6 360.9 695.1 365.1 693.1 368.1C691.2 371.2 686.5 375.6 683.1 376.4C679.8 377.3 675.8 375.0 673.2 373.1C670.5 371.2 667.3 367.6 667.3 364.8C667.3 362.0 671.1 359.0 673.2 356.5C675.2 354.0 677.3 350.6 679.8 349.8Z"/>
<path class="l" d="M696.5 356.5C696.9 358.1 699.7 363.4 699.1 366.5C698.6 369.5 695.5 372.7 693.1 374.8C690.7 376.9 686.2 378.4 684.8 379.1"/>
<path class="l" d="M666.5 364.8L672.5 374.8"/>
<path class="l" d="M673.2 378.1L668.2 388.4"/>
<ellipse class="l" cx="696.8" cy="355.8" rx="2.5" ry="1.3" transform="rotate(20.0 696.8 355.8)"/>
<path class="l" d="M709.8 366.5C711.7 368.4 718.4 373.9 721.4 378.1C724.5 382.3 726.7 386.4 728.1 391.4C729.4 396.4 729.3 401.6 729.7 408.0C730.1 414.5 730.4 426.3 730.6 430.0"/>
<path class="l" d="M713.1 366.5C715.0 368.4 721.7 373.7 724.7 378.1C727.8 382.5 729.9 384.4 731.4 393.1C732.9 401.7 733.5 423.8 733.9 430.0"/>
<path class="l" d="M643.2 394.7L666.5 391.4L674.8 396.4L676.5 416.4L678.2 430.0"/>
<path class="l" d="M643.2 394.7L639.9 414.7L638.2 430.0"/>
<path class="l" d="M646.5 388.4L669.8 393.4"/>
<ellipse class="l" cx="653.2" cy="406.7" rx="2.3" ry="4.7" transform="rotate(15.0 653.2 406.7)"/>
<path class="l" d="M646.5 414.7L658.2 416.7"/>
<path class="l" d="M643.2 409.7L646.5 416.4"/>
<path class="b" stroke-dasharray="2 2" d="M580.0 373.4L590.0 376.8"/>
<path class="l" d="M580.0 391.4L586.7 395.1"/>
<path class="l" d="M580.0 409.7L591.6 403.0L592.5 416.4Z"/>
<path class="l" d="M580.0 416.4L613.3 430.0"/>
<path class="b" d="M611.6 418.0L613.3 426.7"/>
<path class="b" d="M618.6 419.7L619.9 430.0"/>
<path class="l" d="M609.9 419.7L634.9 425.0"/>
<path class="l" d="M659.9 421.3C661.5 421.6 667.6 421.6 669.8 423.0C672.1 424.5 672.6 428.8 673.2 430.0"/>
<path class="l" d="M593.3 383.1L595.0 394.7"/>
</g>
<g id="t06">
<path class="l" d="M638.2 442.5C645.2 445.7 667.3 455.9 679.8 461.6C692.3 467.3 706.2 474.6 713.1 476.6C720.0 478.5 718.5 476.0 721.4 473.3C724.3 470.5 728.3 465.5 730.6 459.9C732.8 454.4 734.2 445.0 734.7 440.0C735.3 435.0 734.0 431.7 733.9 430.0"/>
<path class="l" d="M730.6 430.0C730.8 432.2 732.5 438.7 732.2 443.3C731.9 447.9 730.4 454.1 728.9 457.4C727.4 460.8 724.3 462.3 723.4 463.3"/>
<path class="l" d="M678.2 441.6L721.7 461.9L726.4 455.0"/>
<path class="l" d="M658.2 430.0C658.5 431.7 658.2 437.8 659.9 440.0C661.5 442.2 665.5 443.6 668.2 443.3C670.8 443.0 674.3 440.5 675.7 438.3C677.0 436.1 676.3 431.4 676.5 430.0"/>
<path class="l" d="M663.2 431.7C663.5 432.8 663.6 437.5 664.8 438.3C666.1 439.1 669.6 438.0 670.7 436.7C671.8 435.3 671.4 431.1 671.5 430.0"/>
<ellipse class="l" cx="607.4" cy="439.1" rx="5.7" ry="7.7" transform="rotate(15.0 607.4 439.1)"/>
<ellipse class="l" cx="607.4" cy="439.5" rx="2.3" ry="4.5" transform="rotate(15.0 607.4 439.5)"/>
<path class="l" d="M580.0 446.6L590.0 440.0L600.0 435.0"/>
<path class="l" d="M580.0 441.6L588.3 438.3"/>
<path class="l" d="M613.3 438.3L615.8 430.0"/>
<path class="b" d="M615.8 433.7L634.9 442.6"/>
<path class="l" d="M634.9 442.6L635.2 450.3"/>
<path class="l" d="M613.3 445.3L634.9 455.0"/>
<path class="b" d="M619.9 435.3L629.9 440.3"/>
<path class="b" d="M634.9 451.6C637.4 451.5 645.7 450.0 649.9 450.8C654.0 451.6 657.0 453.7 659.9 456.6C662.7 459.5 665.7 466.3 666.8 468.3"/>
<path class="l" d="M636.6 455.0C638.8 454.8 646.3 453.3 649.9 454.1C653.5 455.0 655.9 457.3 658.2 459.9C660.5 462.6 662.6 468.3 663.5 469.9"/>
<path class="l" d="M598.3 463.3L609.9 453.6L618.3 455.0"/>
<path class="l" d="M616.9 468.3L628.2 458.6"/>
<path class="l" d="M580.0 466.6L591.6 463.3"/>
<path class="l" d="M583.3 471.6L591.6 468.3"/>
<path class="l" d="M623.3 501.5C624.6 496.5 626.6 491.0 629.9 486.6C633.2 482.1 638.8 477.6 643.2 474.9C647.7 472.3 652.4 470.8 656.5 470.8C660.7 470.8 665.0 472.3 668.2 474.9C671.4 477.6 674.1 481.8 675.7 486.6C677.2 491.3 677.7 497.1 677.3 503.2C676.9 509.3 675.5 516.8 673.2 523.2C670.8 529.5 667.1 536.5 663.2 541.5C659.3 546.5 654.3 550.7 649.9 553.1C645.4 555.5 640.2 556.2 636.6 555.6C633.0 555.0 630.4 553.5 628.2 549.8C626.1 546.0 624.7 538.7 623.6 533.1C622.5 527.6 621.6 521.8 621.6 516.5C621.5 511.2 621.9 506.5 623.3 501.5Z"/>
<path class="l" d="M626.9 503.2C628.2 498.5 630.2 492.4 633.2 488.2C636.2 484.1 641.0 480.5 644.9 478.2C648.8 476.0 652.9 474.6 656.5 474.6C660.1 474.6 663.8 476.0 666.5 478.2C669.2 480.5 671.6 484.1 672.8 488.2C674.1 492.4 674.4 497.7 674.0 503.2C673.5 508.7 672.3 515.7 670.2 521.5C668.0 527.3 664.7 533.5 661.2 538.1C657.7 542.7 653.0 546.9 649.0 549.1C645.1 551.3 640.6 551.9 637.4 551.4C634.2 551.0 631.7 549.8 629.9 546.5C628.1 543.1 627.4 536.5 626.6 531.5C625.8 526.5 625.2 521.2 625.2 516.5C625.3 511.8 625.6 507.9 626.9 503.2Z"/>
<path class="l" d="M625.7 536.5C626.2 532.6 626.2 520.1 628.2 513.2C630.3 506.2 634.3 499.9 638.2 494.9C642.1 489.9 647.9 484.9 651.5 483.2C655.1 481.6 658.5 484.6 659.9 484.9"/>
<path class="l" d="M669.8 496.5C670.1 499.3 672.6 507.1 671.5 513.2C670.4 519.3 666.8 527.6 663.2 533.1C659.6 538.7 654.6 543.6 649.9 546.5C645.2 549.3 638.8 550.6 634.9 550.1C631.0 549.6 628.0 544.6 626.6 543.5"/>
<path class="l" d="M656.5 486.6C656.2 489.9 657.1 499.3 654.9 506.5C652.6 513.7 647.4 523.4 643.2 529.8C639.1 536.2 632.1 542.3 629.9 544.8"/>
<path class="l" d="M664.8 488.2C664.8 491.8 666.8 502.4 664.8 509.9C662.9 517.3 657.6 527.0 653.2 533.1C648.8 539.3 640.7 544.5 638.2 546.8"/>
<path class="l" d="M613.3 529.8C613.8 532.6 614.4 542.0 616.6 546.5C618.8 550.9 624.9 555.0 626.6 556.8"/>
<path class="l" d="M618.3 529.8C618.8 532.3 619.6 540.9 621.6 544.8C623.5 548.7 628.5 552.0 629.9 553.4"/>
<path class="b" d="M663.2 536.5C663.7 535.6 665.4 533.4 666.5 531.5C667.6 529.5 669.3 525.9 669.8 524.8"/>
<path class="l" d="M593.3 478.2C595.2 479.4 601.9 481.8 605.0 484.9C608.0 487.9 610.8 491.8 611.6 496.5C612.4 501.3 611.6 508.5 609.9 513.2C608.3 517.9 605.0 522.0 601.6 524.8C598.3 527.7 591.9 529.3 590.0 530.1"/>
<path class="b" d="M600.0 494.9C601.3 495.2 606.5 494.8 608.3 496.5C610.1 498.3 610.5 503.8 610.9 505.2"/>
<path class="l" d="M590.0 503.2C589.7 505.4 588.3 512.8 588.3 516.5C588.4 520.2 590.0 523.7 590.3 525.2"/>
<path class="b" d="M583.7 477.4L584.0 523.2"/>
<path class="l" d="M580.0 476.6L585.0 479.9L585.7 523.2L580.0 526.8"/>
<path class="l" d="M590.0 536.5L603.3 543.1L585.0 559.8Z"/>
<path class="l" d="M585.0 559.8L580.0 561.8"/>
<path class="l" d="M674.8 538.1C676.2 537.0 680.1 532.3 683.1 531.5C686.2 530.6 690.5 530.9 693.1 533.1C695.8 535.4 698.4 540.4 698.9 544.8C699.5 549.2 698.3 555.3 696.5 559.8C694.6 564.2 691.2 569.2 688.1 571.4C685.1 573.6 681.1 573.9 678.2 573.1C675.2 572.2 671.5 567.5 670.2 566.4"/>
<path class="l" d="M688.1 546.5C687.0 546.7 683.0 546.7 681.5 548.1C680.0 549.5 679.0 552.6 679.0 554.8C679.0 557.0 680.0 560.3 681.5 561.4C683.0 562.5 687.0 561.4 688.1 561.4"/>
<path class="l" d="M673.2 529.8C671.5 532.0 665.4 538.7 663.2 543.1C661.0 547.6 659.9 552.6 659.9 556.4C659.9 560.3 661.5 563.9 663.2 566.4C664.9 569.0 669.0 570.9 670.2 571.7"/>
<path class="b" d="M677.3 508.2L686.5 529.8"/>
<path class="l" d="M674.8 516.5L681.5 531.8"/>
<path class="t" d="M688.1 553.9L701.4 562.4"/>
<path class="l" d="M706.4 568.1L713.1 562.3L760.0 585.5"/>
<path class="l" d="M706.4 568.1L708.1 576.4L760.0 603.0"/>
<path class="b" d="M709.4 568.9L734.7 583.9"/>
<path class="b" d="M709.4 572.2L733.0 585.5"/>
<path class="b" d="M709.8 575.1L729.7 586.7"/>
<path class="l" d="M658.2 566.4L686.5 579.7L694.8 588.0"/>
<ellipse class="l" cx="688.1" cy="596.4" rx="5.8" ry="7.5" transform="rotate(15.0 688.1 596.4)"/>
<ellipse class="k" cx="688.5" cy="596.7" rx="2.3" ry="3.7" transform="rotate(15.0 688.5 596.7)"/>
<path class="l" d="M669.8 599.7L681.8 604.7"/>
<path class="l" d="M656.5 568.1C658.2 570.0 664.2 574.7 666.5 579.7C668.8 584.7 669.6 595.0 670.2 598.0"/>
<path class="b" d="M658.2 566.7L668.2 571.4"/>
<path class="l" d="M595.0 568.1C596.4 567.0 599.7 562.3 603.3 561.4C606.9 560.6 613.3 561.1 616.6 563.1C619.9 565.0 622.0 568.9 623.3 573.1C624.5 577.2 625.2 584.2 624.1 588.0C623.0 591.9 620.3 594.6 616.6 596.4C612.9 598.1 604.1 598.0 601.6 598.4"/>
<ellipse class="k" cx="625.7" cy="570.1" rx="2.2" ry="4.7" transform="rotate(15.0 625.7 570.1)"/>
<path class="l" d="M599.1 585.5C599.5 586.1 601.5 587.9 601.6 588.9C601.7 589.8 600.0 591.0 599.6 591.4"/>
<path class="l" d="M644.9 610.0C644.6 607.4 642.4 599.2 643.2 594.7C644.0 590.2 647.1 585.5 649.9 583.0C652.6 580.6 656.9 578.9 659.9 579.7C662.8 580.6 666.2 584.2 667.3 588.0C668.4 591.9 667.2 599.4 666.5 603.0C665.8 606.7 663.7 608.8 663.2 610.0"/>
<path class="l" d="M647.4 610.0C647.2 607.7 645.5 600.3 646.2 596.4C647.0 592.4 649.6 588.5 651.9 586.4C654.1 584.2 658.5 583.9 659.9 583.4"/>
<path class="l" d="M631.6 563.1C632.4 565.3 634.0 573.6 636.6 576.4C639.1 579.2 645.2 579.2 646.9 579.7"/>
<path class="l" d="M638.2 559.8C639.6 559.5 644.3 555.8 646.5 558.1C648.8 560.4 650.7 570.9 651.5 573.4"/>
<path class="l" d="M633.2 565.1L638.2 578.1"/>
<path class="l" d="M626.6 596.4L625.9 604.7"/>
<path class="l" d="M580.0 579.7C581.1 581.4 585.0 584.7 586.7 589.7C588.3 594.8 589.4 606.6 590.0 610.0"/>
<path class="l" d="M580.0 584.7C580.8 586.7 584.0 592.1 585.0 596.4C586.0 600.6 585.8 607.7 586.0 610.0"/>
<path class="l" d="M606.6 558.1C609.1 558.1 617.7 557.3 621.6 558.1C625.5 558.9 628.8 562.3 630.2 563.1"/>
<path class="l" d="M678.2 494.9C680.1 493.8 688.1 490.1 689.8 488.2C691.5 486.3 688.4 484.3 688.1 483.6"/>
<ellipse class="l" cx="703.1" cy="483.2" rx="5.7" ry="6.7" transform="rotate(20.0 703.1 483.2)"/>
<ellipse class="k" cx="702.8" cy="483.6" rx="2.7" ry="3.3" transform="rotate(20.0 702.8 483.6)"/>
<path class="l" d="M703.1 471.6L713.1 476.9"/>
</g>
<g id="t07">
<path class="l" d="M420.0 610.0C420.0 614.4 419.3 628.6 420.3 636.6C421.3 644.7 422.9 651.6 425.8 658.2C428.6 664.9 432.3 671.8 437.4 676.5C442.6 681.3 450.0 685.5 456.6 686.9C463.1 688.2 470.1 686.3 476.5 684.9C482.9 683.4 488.4 681.4 494.8 678.2C501.2 675.0 511.5 667.9 514.8 665.9"/>
<path class="l" d="M424.1 610.0C424.3 613.9 423.8 625.8 425.0 633.3C426.1 640.8 428.0 648.5 430.8 654.9C433.5 661.3 437.2 667.0 441.6 671.6C446.0 676.2 452.1 680.9 457.4 682.5C462.7 684.2 470.6 681.7 473.2 681.5"/>
<path class="b" d="M489.8 678.5C491.5 677.8 496.7 675.8 499.8 674.0C502.9 672.3 507.0 669.2 508.5 668.2"/>
<path class="l" d="M400.0 657.4L434.9 679.2"/>
<path class="l" d="M516.5 663.2C517.0 664.3 517.8 668.3 519.8 669.9C521.7 671.4 525.3 673.1 528.1 672.6C530.9 672.0 534.6 669.2 536.4 666.6C538.2 663.9 538.9 659.6 539.1 656.6C539.2 653.5 538.5 650.2 537.2 648.3C536.0 646.3 532.4 645.5 531.4 644.9"/>
<ellipse class="k" cx="530.6" cy="661.6" rx="3.3" ry="5.7" transform="rotate(20.0 530.6 661.6)"/>
<path class="l" d="M504.8 649.9L516.5 658.2L515.1 665.2"/>
<path class="l" d="M504.8 649.9L509.8 645.8"/>
<path class="l" d="M516.5 630.0L533.1 643.3L538.1 648.6"/>
<path class="l" d="M506.5 631.6L514.8 636.6"/>
<path class="l" d="M519.8 639.1L526.8 643.3"/>
<ellipse class="k" cx="505.6" cy="620.0" rx="3.0" ry="5.7" transform="rotate(15.0 505.6 620.0)"/>
<path class="l" d="M499.8 615.0C500.1 616.9 499.8 624.1 501.5 626.6C503.1 629.1 507.3 630.2 509.8 630.0C512.3 629.7 515.8 627.7 516.5 625.0C517.1 622.2 514.0 615.3 513.5 613.3"/>
<path class="l" d="M538.1 643.3C540.0 639.9 546.1 628.9 549.7 623.3C553.3 617.8 558.0 612.2 559.7 610.0"/>
<path class="b" d="M543.4 631.6L550.1 621.6"/>
<path class="l" d="M539.7 641.6C540.6 642.7 542.2 646.9 544.7 648.3C547.2 649.6 548.8 652.1 554.7 649.9C560.6 647.7 575.8 637.4 580.0 635.0"/>
<path class="b" d="M553.0 631.6C554.7 632.2 558.5 635.8 563.0 635.0C567.5 634.1 577.2 628.0 580.0 626.6"/>
<path class="l" d="M549.7 626.6L556.4 635.0"/>
<path class="b" d="M469.9 618.3L468.5 651.6"/>
<path class="l" d="M473.2 616.7L483.2 610.0"/>
<path class="l" d="M441.6 620.0L439.9 633.3"/>
<path class="b" d="M427.0 641.6L441.6 618.7"/>
<path class="l" d="M439.9 638.3L466.5 653.6"/>
<path class="l" d="M468.2 652.6L471.9 654.9"/>
<path class="l" d="M474.9 626.6L479.9 620.0L489.8 626.6"/>
<path class="l" d="M481.5 633.3L489.8 628.6"/>
<path class="l" stroke-dasharray="3 2.5" d="M489.8 635.0C490.4 636.1 491.8 640.8 493.2 641.6C494.5 642.4 497.5 641.2 498.2 639.9C498.8 638.7 497.5 635.1 497.3 634.1"/>
<path class="l" d="M499.8 638.3L508.1 643.3"/>
<path class="l" d="M438.3 616.7C442.4 617.2 457.9 620.5 463.2 620.0C468.5 619.4 468.8 614.4 469.9 613.3"/>
<path class="l" d="M559.7 620.0C560.8 620.5 563.0 623.9 566.4 623.3C569.7 622.8 577.7 617.8 580.0 616.7"/>
<path class="b" d="M573.0 613.3L580.0 610.0"/>
<path class="l" d="M400.0 721.5L415.0 729.8"/>
<path class="l" d="M420.0 733.1L428.3 738.1"/>
<path class="l" d="M400.0 741.4L425.0 754.7"/>
<path class="b" d="M425.0 754.7C425.8 751.4 426.1 746.0 428.3 743.1C430.5 740.2 434.9 738.0 438.3 737.3C441.6 736.6 445.5 736.8 448.2 738.9C451.0 741.0 453.8 746.3 454.9 749.7C456.0 753.2 456.0 756.4 454.9 759.7C453.8 763.0 451.0 767.4 448.2 769.7C445.5 772.0 441.6 773.2 438.3 773.4C434.9 773.5 430.8 772.3 428.3 770.5C425.8 768.8 423.8 765.7 423.3 763.0C422.7 760.4 424.1 758.1 425.0 754.7Z"/>
<path class="b" d="M429.9 751.4L436.6 743.1L448.2 743.1L454.1 751.4L449.9 764.7L439.9 769.7L431.6 766.4Z"/>
<path class="l" d="M436.6 743.1L443.3 753.1L439.9 769.7"/>
<path class="l" d="M443.3 753.1L454.1 751.4"/>
<path class="h" d="M424.6 756.4C424.5 757.5 423.0 760.8 423.6 763.0C424.3 765.3 427.8 768.9 428.6 770.0"/>
<path class="l" d="M569.7 788.0L580.0 784.7"/>
</g>
<g id="t08">
<path class="l" d="M264.9 610.0L278.2 628.6"/>
<ellipse class="k" cx="282.9" cy="636.3" rx="0.8" ry="1.0" transform="rotate(0.0 282.9 636.3)"/>
<path class="l" d="M286.5 643.3L295.2 653.6"/>
<path class="l" d="M238.3 644.9C238.7 642.2 239.4 637.6 241.6 635.0C243.8 632.3 248.0 630.0 251.6 629.1C255.2 628.3 260.1 629.0 263.3 630.0C266.4 630.9 269.1 632.7 270.7 635.0C272.4 637.2 273.4 639.9 273.2 643.3C273.1 646.6 271.8 651.9 269.9 654.9C268.0 658.0 264.4 660.0 261.6 661.6C258.8 663.1 256.0 664.6 253.3 664.1C250.5 663.5 247.3 660.3 245.0 658.2C242.6 656.2 240.2 653.8 239.1 651.6C238.0 649.4 237.9 647.7 238.3 644.9Z"/>
<path class="b" d="M238.3 645.8C238.5 646.9 238.5 650.3 239.6 652.4C240.7 654.6 243.1 657.0 245.0 658.6C246.8 660.2 249.8 661.3 250.8 661.9"/>
<path class="l" d="M251.6 659.9C251.5 658.0 250.1 652.0 250.8 648.3C251.5 644.5 253.6 639.9 255.8 637.4C257.9 635.0 262.3 634.0 263.6 633.3"/>
<ellipse class="b" cx="261.6" cy="647.6" rx="6.2" ry="9.0" transform="rotate(20.0 261.6 647.6)"/>
<ellipse class="l" cx="261.6" cy="647.6" rx="4.0" ry="6.7" transform="rotate(20.0 261.6 647.6)"/>
<path class="t" d="M258.6 643.3L263.6 645.8"/>
<path class="t" d="M257.9 647.4L264.6 649.6"/>
<path class="t" d="M259.1 651.6L263.6 652.9"/>
<path class="t" d="M259.9 640.8L262.4 654.1"/>
<path class="l" d="M242.5 637.4L249.1 640.8L250.8 658.6"/>
<path class="l" d="M249.1 640.8L254.9 635.0"/>
<path class="t" d="M249.1 659.9L248.6 693.2"/>
<path class="n" d="M248.3 700.7C247.9 700.9 246.1 701.2 245.8 701.8C245.5 702.5 246.1 703.9 246.6 704.5C247.2 705.1 248.4 705.0 249.1 705.7C249.8 706.3 250.8 707.3 250.8 708.2C250.8 709.0 249.9 710.3 249.1 710.5C248.4 710.7 246.8 710.0 246.3 709.5C245.8 708.9 245.5 707.8 246.0 707.2C246.4 706.5 248.3 706.3 249.1 705.7C249.9 705.0 250.7 704.0 250.6 703.2C250.5 702.3 248.7 701.1 248.3 700.7"/>
<path class="b" d="M278.2 679.0C277.9 677.8 276.4 674.5 276.6 671.6C276.7 668.6 277.5 664.7 279.1 661.6C280.6 658.5 284.6 654.4 285.7 652.9"/>
<path class="l" d="M285.7 652.9C287.0 652.6 291.1 650.5 293.2 650.8C295.3 651.0 297.1 652.2 298.2 654.6C299.2 656.9 300.1 661.2 299.5 664.9C299.0 668.6 296.9 673.5 294.9 676.5C292.8 679.5 289.7 682.0 287.4 682.9C285.0 683.7 282.2 682.2 280.7 681.5C279.2 680.9 278.6 679.5 278.2 679.0"/>
<ellipse class="l" cx="289.5" cy="668.2" rx="4.7" ry="8.0" transform="rotate(20.0 289.5 668.2)"/>
<path class="l" d="M295.2 653.6L301.5 658.6L300.2 666.6L308.2 675.9L298.2 670.2L293.2 668.6"/>
<path class="b" d="M300.7 665.7L307.8 675.5"/>
<path class="t" d="M283.2 683.2L282.9 708.2"/>
<path class="n" d="M284.5 716.5C284.3 716.1 283.7 714.3 282.9 714.1C282.1 714.0 280.3 714.8 279.9 715.5C279.4 716.2 279.7 717.9 280.2 718.5C280.7 719.1 282.2 719.5 282.9 719.1C283.6 718.8 284.3 716.2 284.5 716.5C284.8 716.7 284.8 719.3 284.5 720.6C284.3 722.0 283.5 723.9 282.9 724.5C282.2 725.0 280.9 723.9 280.6 723.8"/>
<path class="b" d="M309.8 610.0C312.1 610.9 318.7 614.0 323.1 615.3C327.6 616.7 332.8 618.0 336.5 618.0C340.1 617.9 342.7 616.3 344.8 615.0C346.8 613.7 348.2 610.8 348.9 610.0"/>
<path class="l" d="M336.5 618.3L358.1 632.5"/>
<path class="l" d="M358.1 611.7L366.4 616.7L358.1 633.3"/>
<path class="l" stroke-dasharray="9 4" d="M358.1 633.3L333.1 689.9"/>
<path class="l" d="M333.1 689.9L339.8 694.8"/>
<path class="l" d="M361.4 635.0L400.0 656.6"/>
<path class="b" d="M342.3 707.3C342.1 706.2 341.1 702.7 341.4 700.7C341.8 698.6 343.0 696.5 344.4 695.2C345.9 693.9 349.1 693.2 350.1 692.8"/>
<path class="l" d="M342.3 707.3L343.9 709.8"/>
<path class="b" d="M350.1 692.8L369.7 703.2"/>
<path class="l" d="M369.7 703.2L400.0 719.8"/>
<path class="b" d="M343.9 709.8L366.4 721.8"/>
<path class="l" d="M366.4 721.8L400.0 741.4"/>
<path class="t" stroke-dasharray="2 2" d="M346.8 704.0L368.1 713.5"/>
<path class="t" stroke-dasharray="2 2" d="M347.3 707.3L366.4 716.5"/>
<path class="t" d="M387.7 736.4L387.7 765.5"/>
<path class="n" d="M390.0 774.4L386.0 774.4L385.7 777.7L388.4 777.0L390.0 778.7L389.4 782.0L386.7 783.0L385.4 781.7"/>
</g>
<g id="t09">
<path class="b" d="M580.0 635.0C580.8 633.0 583.6 626.6 585.0 623.3C586.4 620.0 587.8 616.4 588.3 615.0"/>
<path class="l" d="M582.5 635.0C583.3 633.2 586.2 627.3 587.5 624.1C588.7 621.0 589.6 617.2 590.0 615.8"/>
<path class="l" d="M588.3 615.0C590.5 616.0 597.5 620.4 601.6 621.0C605.8 621.5 608.8 620.1 613.3 618.3C617.7 616.5 625.7 611.4 628.2 610.0"/>
<path class="b" d="M638.2 610.0C639.3 611.1 642.1 615.5 644.9 616.7C647.7 617.8 652.1 617.8 654.9 616.7C657.6 615.5 660.4 611.1 661.5 610.0"/>
<ellipse class="k" cx="586.7" cy="613.3" rx="3.7" ry="2.3" transform="rotate(-30.0 586.7 613.3)"/>
</g>
<g id="t10">
<path class="b" d="M740.0 349.9L758.3 359.1"/>
<path class="l" d="M758.3 359.1L786.6 371.6"/>
<path class="l" d="M791.6 373.5L807.4 380.9"/>
<path class="l" d="M840.6 395.7L873.1 409.8"/>
<path class="b" d="M740.0 366.6L755.0 374.0"/>
<path class="l" d="M755.0 374.0L786.6 387.5"/>
<path class="l" d="M793.2 390.9L826.5 405.7"/>
<path class="b" d="M809.9 398.5L869.8 424.8"/>
<path class="t" stroke-dasharray="2 2" d="M740.8 358.2L754.1 364.9"/>
<path class="t" stroke-dasharray="2 2" d="M740.8 360.7L754.1 367.4"/>
<path class="t" stroke-dasharray="2 2" d="M740.8 363.2L753.3 369.6"/>
<path class="l" d="M755.3 363.2L754.3 374.0"/>
<path class="l" d="M873.1 409.8C874.5 409.5 878.6 407.9 881.4 408.2C884.2 408.4 887.8 409.5 889.7 411.5C891.7 413.4 892.8 416.7 893.0 419.8C893.3 422.8 892.8 427.1 891.4 429.8C890.0 432.4 887.0 434.8 884.7 435.6C882.5 436.4 879.2 434.9 878.1 434.8"/>
<path class="l" d="M873.1 409.8L868.9 421.5L871.4 426.8L878.1 434.8"/>
<path class="l" d="M881.4 413.1C883.3 411.0 887.0 410.7 888.9 411.8C890.8 412.9 892.4 416.9 892.7 419.8C893.1 422.7 892.4 427.0 891.1 429.4C889.7 431.9 886.7 434.0 884.7 434.8C882.8 435.5 880.6 435.6 879.4 433.9C878.2 432.3 877.4 428.3 877.7 424.8C878.1 421.3 879.5 415.3 881.4 413.1Z"/>
<path class="l" d="M868.9 421.5L877.7 424.8"/>
<path class="n" d="M824.0 335.8C823.5 335.9 821.5 335.8 820.7 336.6C819.9 337.4 819.4 339.5 819.4 340.8C819.3 342.0 819.6 343.5 820.2 344.1C820.8 344.7 822.1 344.9 822.8 344.6C823.6 344.3 824.5 343.2 824.5 342.4C824.5 341.7 823.6 340.4 822.8 340.3C822.1 340.1 820.4 341.4 819.9 341.6"/>
<path class="t" d="M821.5 355.7L821.5 386.9"/>
<ellipse class="k" cx="820.9" cy="387.2" rx="1.0" ry="0.8" transform="rotate(0.0 820.9 387.2)"/>
</g>
<g id="t11">
<path class="l" d="M759.9 586.2L806.5 609.5"/>
<path class="l" d="M813.1 613.2L858.0 634.8"/>
<path class="b" d="M759.9 602.5L853.0 649.8"/>
<path class="l" d="M858.0 634.8C859.1 634.6 862.5 633.4 864.7 634.0C866.9 634.5 869.8 636.0 871.3 638.1C872.9 640.2 873.8 643.7 873.8 646.4C873.8 649.2 872.9 652.5 871.3 654.8C869.8 657.0 866.9 659.5 864.7 660.1C862.5 660.6 860.0 659.5 858.0 658.1C856.1 656.6 853.9 652.5 853.0 651.4"/>
<path class="l" d="M858.0 634.8L853.0 648.1L853.4 651.8"/>
<path class="l" d="M864.7 640.1L862.2 648.4L858.0 658.1"/>
<path class="l" d="M864.7 640.1L862.2 636.5"/>
<path class="n" d="M801.1 563.6L805.1 563.6L802.5 571.9"/>
<path class="t" d="M802.8 579.9L802.8 606.5"/>
<path class="t" d="M700.0 562.9L701.3 562.4"/>
</g>
<g id="t12">
<path class="l" d="M623.6 250.7L623.6 247.4L630.7 249.9"/>
<path class="n" d="M651.5 211.6L651.5 221.9"/>
<path class="t" d="M651.5 225.8L651.5 255.2"/>
</g>
<g id="u01" class="low">
<path class="l" stroke-dasharray="9 4" d="M476.5 816.5L590.0 782.9"/>
<path class="l" stroke-dasharray="9 4" d="M489.9 818.5L578.0 790.9"/>
<path class="l" d="M578.0 790.9C579.1 791.8 582.7 795.3 584.7 796.5C586.7 797.7 589.1 797.9 590.0 798.2"/>
<path class="l" d="M476.5 816.5L475.7 823.5"/>
<ellipse class="l" cx="477.4" cy="833.5" rx="8.3" ry="8.7" transform="rotate(0.0 477.4 833.5)"/>
<ellipse class="l" cx="477.4" cy="833.5" rx="3.7" ry="4.0" transform="rotate(0.0 477.4 833.5)"/>
<path class="f" d="M425.6 829.0L421.8 835.0L427.3 835.0"/>
<path class="f" d="M425.6 829.0L425.6 837.4"/>
<path class="t" stroke-dasharray="7 3 1.5 3" d="M437.4 834.0L459.9 834.0"/>
<path class="t" d="M463.2 834.0L468.6 834.0"/>
<path class="l" d="M469.1 842.3L451.6 858.1L441.6 869.7"/>
<path class="l" d="M489.9 818.5C489.6 819.8 487.9 823.8 488.2 826.5C488.5 829.2 491.5 831.7 491.5 834.8C491.5 837.8 490.1 842.0 488.2 844.8C486.2 847.5 481.8 848.4 479.9 851.4C477.9 854.5 476.8 857.2 476.5 863.1C476.3 868.9 477.7 880.2 478.2 886.4C478.8 892.5 479.6 897.7 479.9 900.0"/>
<path class="l" stroke-dasharray="9 4" d="M439.9 886.4C439.8 884.7 438.3 879.4 439.1 876.4C439.9 873.3 442.3 869.7 444.9 868.1C447.6 866.4 451.6 866.1 454.9 866.4C458.2 866.7 462.5 867.5 464.9 869.7C467.3 871.9 468.8 876.4 469.1 879.7C469.3 883.0 468.4 886.9 466.6 889.7C464.8 892.5 461.6 895.4 458.2 896.3C454.9 897.3 449.5 896.9 446.6 895.5C443.7 894.1 441.7 889.3 440.8 888.0"/>
<ellipse class="l" cx="454.1" cy="881.4" rx="10.8" ry="11.3" transform="rotate(0.0 454.1 881.4)"/>
<ellipse class="l" cx="454.1" cy="881.4" rx="6.3" ry="6.7" transform="rotate(0.0 454.1 881.4)"/>
<ellipse class="l" cx="555.1" cy="880.0" rx="30.6" ry="31.6" transform="rotate(0.0 555.1 880.0)"/>
<path class="l" stroke-dasharray="9 4" d="M490.7 891.3C491.8 891.8 496.0 892.5 497.3 893.8C498.7 895.2 499.1 897.7 499.0 899.7C498.9 901.6 497.9 904.2 496.5 905.5C495.1 906.8 492.6 907.7 490.7 907.7C488.7 907.7 486.2 906.8 484.9 905.5C483.6 904.2 482.9 901.6 482.9 899.7C482.9 897.7 483.6 895.2 484.9 893.8C486.2 892.5 489.7 891.8 490.7 891.3"/>
<ellipse class="l" cx="490.7" cy="899.7" rx="3.3" ry="3.7" transform="rotate(0.0 490.7 899.7)"/>
</g>
<g id="u02" class="low">
<path class="f" d="M611.1 729.8L607.3 736.0L612.8 736.0"/>
<path class="f" d="M611.1 729.8L611.1 738.0"/>
<path class="n" d="M647.1 728.3C647.5 728.1 648.8 726.9 649.6 727.0C650.3 727.0 651.6 727.9 651.6 728.7C651.6 729.4 649.5 730.5 649.6 731.3C649.6 732.1 651.8 732.8 651.9 733.6C651.9 734.5 650.7 736.0 649.9 736.3C649.1 736.6 647.4 735.5 646.9 735.3"/>
<path class="n" d="M692.0 730.0C692.4 729.8 693.7 728.6 694.5 728.7C695.2 728.7 696.5 729.6 696.5 730.3C696.5 731.0 694.4 732.1 694.5 733.0C694.5 733.8 696.7 734.5 696.8 735.3C696.9 736.1 695.6 737.7 694.8 738.0C694.0 738.2 692.3 737.1 691.8 737.0"/>
<path class="t" d="M612.5 745.8L612.5 843.1"/>
<path class="t" d="M649.6 745.0L649.6 781.6"/>
<path class="t" stroke-dasharray="9 4" d="M694.8 742.5L694.8 826.5"/>
<path class="l" d="M590.0 782.4L638.2 768.2L640.7 769.2L643.2 774.9L646.9 776.9"/>
<path class="l" stroke-dasharray="9 4" d="M590.0 797.4C596.4 797.2 621.1 795.8 628.3 796.5C635.5 797.2 632.3 789.3 633.3 801.5C634.2 813.7 634.4 853.3 634.1 869.7C633.8 886.1 632.0 895.0 631.6 900.0"/>
<ellipse class="l" cx="649.9" cy="782.9" rx="9.1" ry="9.5" transform="rotate(0.0 649.9 782.9)"/>
<ellipse class="l" cx="649.9" cy="782.9" rx="4.3" ry="4.7" transform="rotate(0.0 649.9 782.9)"/>
<path class="l" d="M657.4 789.9L686.5 818.2"/>
<ellipse class="l" cx="695.6" cy="826.8" rx="9.1" ry="9.5" transform="rotate(0.0 695.6 826.8)"/>
<ellipse class="l" cx="695.6" cy="826.8" rx="4.3" ry="4.7" transform="rotate(0.0 695.6 826.8)"/>
<path class="l" stroke-dasharray="9 4" d="M688.2 818.2L711.4 818.2"/>
<ellipse class="l" cx="613.3" cy="844.3" rx="9.1" ry="9.5" transform="rotate(0.0 613.3 844.3)"/>
<ellipse class="l" cx="613.3" cy="844.3" rx="4.0" ry="4.3" transform="rotate(0.0 613.3 844.3)"/>
<path class="l" stroke-dasharray="9 4" d="M656.5 851.4C658.3 852.1 664.9 853.1 667.4 855.6C669.9 858.1 671.5 862.8 671.5 866.4C671.5 870.0 669.9 874.7 667.4 877.2C664.9 879.7 660.1 881.4 656.5 881.4C652.9 881.4 648.2 879.7 645.7 877.2C643.2 874.7 641.6 870.0 641.6 866.4C641.6 862.8 643.2 858.1 645.7 855.6C648.2 853.1 654.7 852.1 656.5 851.4"/>
<path class="l" stroke-dasharray="9 4" d="M672.3 900.0C672.8 897.2 673.0 888.1 674.8 883.0C676.6 878.0 679.6 873.6 683.2 869.7C686.8 865.8 691.5 862.0 696.5 859.7C701.5 857.5 707.6 856.4 713.1 856.4C718.7 856.4 724.8 857.5 729.7 859.7C734.7 862.0 739.7 865.6 743.0 869.7C746.4 873.9 748.3 879.6 749.7 884.7C751.1 889.7 751.1 897.4 751.4 900.0"/>
<path class="l" stroke-dasharray="9 4" d="M684.8 900.0C685.4 897.2 685.9 887.7 688.2 883.0C690.4 878.4 694.0 874.6 698.1 872.2C702.3 869.9 708.1 868.8 713.1 868.9C718.1 869.0 723.9 870.4 728.1 873.0C732.2 875.7 736.1 880.2 738.1 884.7C740.0 889.2 739.4 897.4 739.7 900.0"/>
<path class="l" d="M713.1 818.2C713.9 817.0 716.6 812.1 718.1 811.5C719.6 810.9 721.4 813.4 722.3 814.8C723.1 816.2 721.8 818.4 723.1 819.8C724.3 821.2 727.5 823.4 729.7 823.1C732.0 822.9 735.1 821.5 736.4 818.2C737.6 814.8 737.1 805.7 737.2 803.2"/>
<path class="l" d="M737.2 803.2L770.0 791.5"/>
<path class="l" stroke-dasharray="9 4" d="M716.4 798.2C717.0 797.6 715.0 795.6 719.8 794.9C724.5 794.2 740.6 794.2 744.7 794.0"/>
<path class="l" d="M744.7 794.0C745.5 792.8 746.7 789.3 749.7 786.5C752.8 783.8 759.6 777.4 763.0 777.4C766.4 777.4 768.8 785.0 770.0 786.5"/>
<path class="l" stroke-dasharray="9 4" d="M716.4 798.2C716.0 801.8 714.4 812.3 713.9 819.8C713.5 827.3 713.0 838.4 713.9 843.1C714.9 847.8 716.8 846.7 719.8 848.1C722.7 849.5 727.5 849.8 731.4 851.4C735.3 853.1 739.7 855.3 743.0 858.1C746.4 860.9 749.1 864.5 751.4 868.1C753.6 871.7 755.0 874.4 756.4 879.7C757.7 885.0 759.1 896.6 759.7 900.0"/>
<path class="l" d="M770.0 833.1L764.7 836.5L753.9 854.8L752.7 859.7L754.4 865.1L759.7 869.7L770.0 874.7"/>
<ellipse class="l" cx="759.7" cy="860.9" rx="3.3" ry="3.7" transform="rotate(0.0 759.7 860.9)"/>
</g>
<g id="u03" class="low">
<path class="f" d="M782.3 726.5L778.5 732.6L784.0 732.6"/>
<path class="f" d="M782.3 726.5L782.3 734.6"/>
<path class="t" d="M782.0 740.8L782.0 818.2"/>
<ellipse class="l" cx="782.5" cy="818.5" rx="8.0" ry="8.3" transform="rotate(0.0 782.5 818.5)"/>
<ellipse class="l" cx="782.5" cy="818.5" rx="4.0" ry="4.3" transform="rotate(0.0 782.5 818.5)"/>
<path class="b" d="M808.3 786.5C809.6 785.8 813.5 782.7 816.6 781.9C819.6 781.1 823.4 780.8 826.6 781.9C829.8 782.9 833.5 785.5 835.7 788.2C837.9 790.9 838.8 795.1 839.5 798.2C840.2 801.2 839.8 805.1 839.9 806.5"/>
<path class="l" stroke-dasharray="9 4" d="M808.3 786.5C807.7 788.5 804.7 794.3 804.6 798.2C804.5 802.1 805.7 806.8 807.4 809.8C809.1 812.9 811.7 815.4 814.9 816.5C818.1 817.6 823.2 817.6 826.6 816.5C829.9 815.4 833.8 810.9 835.2 809.8"/>
<path class="l" d="M827.4 793.2C826.1 793.1 822.0 791.5 819.9 792.4C817.8 793.2 815.3 796.0 814.9 798.2C814.5 800.4 815.6 804.3 817.4 805.7C819.2 807.1 824.3 806.4 825.7 806.5"/>
<path class="l" d="M795.8 792.4L808.3 786.5"/>
<path class="l" d="M770.0 791.5L776.7 789.0L788.3 792.5"/>
<path class="l" d="M778.3 785.7L780.0 790.9"/>
<path class="l" d="M785.8 795.7C789.8 799.7 804.5 813.3 809.9 819.8C815.3 826.3 815.7 828.4 818.2 834.8C820.7 841.2 823.1 850.6 824.9 858.1C826.7 865.6 828.2 875.0 829.1 879.7C829.9 884.4 829.8 885.2 829.9 886.4"/>
<path class="l" d="M839.9 803.2C839.7 808.7 839.7 825.4 839.0 836.5C838.3 847.5 836.5 861.3 835.7 869.7C834.9 878.1 834.3 883.9 834.0 886.7"/>
<path class="l" d="M770.0 833.1L785.0 826.5L803.3 833.1L811.6 838.4L812.9 843.1L811.6 848.9L801.6 866.4L780.0 877.2L770.0 873.0"/>
<path class="b" d="M780.0 827.8L785.8 826.1"/>
<path class="l" stroke-dasharray="9 4" d="M785.0 837.6C786.5 838.3 792.0 839.3 794.1 841.4C796.3 843.6 797.9 847.5 797.9 850.6C797.9 853.6 796.3 857.6 794.1 859.7C792.0 861.9 788.0 863.6 785.0 863.6C781.9 863.6 778.0 861.9 775.8 859.7C773.7 857.6 772.0 853.6 772.0 850.6C772.0 847.5 773.7 843.6 775.8 841.4C778.0 839.3 783.4 838.3 785.0 837.6"/>
<ellipse class="l" cx="805.8" cy="843.4" rx="3.0" ry="3.3" transform="rotate(0.0 805.8 843.4)"/>
<ellipse class="l" cx="819.1" cy="888.4" rx="8.3" ry="8.7" transform="rotate(0.0 819.1 888.4)"/>
<ellipse class="l" cx="819.1" cy="888.4" rx="4.0" ry="4.3" transform="rotate(0.0 819.1 888.4)"/>
<path class="t" d="M827.4 887.2L835.7 887.2"/>
<ellipse class="k" cx="858.2" cy="886.4" rx="0.8" ry="0.7" transform="rotate(0.0 858.2 886.4)"/>
<ellipse class="k" cx="863.5" cy="886.4" rx="0.8" ry="0.7" transform="rotate(0.0 863.5 886.4)"/>
<path class="t" d="M881.8 881.0L885.1 881.0L883.8 884.7"/>
<path class="l" d="M830.2 893.0L828.2 900.0"/>
<path class="l" d="M833.5 893.0L831.9 900.0"/>
</g>
<g id="u04" class="low">
<path class="f" d="M426.8 899.0L423.0 905.2L428.5 905.2"/>
<path class="f" d="M426.8 899.0L426.8 907.2"/>
<path class="t" stroke-dasharray="7 3 1.5 3" d="M437.4 904.2L479.9 903.3"/>
<path class="l" stroke-dasharray="7 3 1.5 3" d="M470.7 906.7C472.2 908.9 477.0 915.5 479.9 920.0C482.8 924.4 484.3 928.6 488.2 933.3C492.1 938.0 497.3 943.8 503.2 948.2C509.0 952.7 517.3 957.1 523.1 959.9C528.9 962.7 533.4 962.8 538.1 964.9C542.8 967.0 545.0 971.1 551.4 972.4C557.8 973.6 572.2 972.4 576.4 972.4"/>
<path class="l" stroke-dasharray="9 4" d="M481.5 907.5C482.6 909.8 485.1 916.5 488.2 921.6C491.2 926.8 495.7 933.7 499.8 938.3C504.0 942.8 507.6 945.9 513.1 949.1C518.7 952.3 529.8 956.0 533.1 957.4"/>
<ellipse class="l" cx="538.1" cy="947.7" rx="9.1" ry="9.5" transform="rotate(0.0 538.1 947.7)"/>
<ellipse class="l" cx="538.1" cy="947.7" rx="4.0" ry="4.3" transform="rotate(0.0 538.1 947.7)"/>
<path class="l" stroke-dasharray="9 4" d="M538.1 957.4L583.0 962.4"/>
<path class="l" d="M583.0 962.4L590.0 954.9"/>
<path class="l" d="M576.4 972.4L590.0 978.2"/>
<path class="t" d="M537.8 948.2L537.8 1021.4"/>
<path class="f" d="M538.3 1028.8L534.4 1034.9L539.9 1034.9"/>
<path class="f" d="M538.3 1028.8L538.3 1036.9"/>
<path class="l" d="M590.0 953.2L573.0 986.5L573.0 1021.4"/>
<path class="f" d="M574.0 1028.8L570.2 1034.9L575.7 1034.9"/>
<path class="f" d="M574.0 1028.8L574.0 1036.9"/>
</g>
<g id="u05" class="low">
<path class="l" stroke-dasharray="9 4" d="M630.8 900.0C630.1 902.2 628.4 909.1 626.6 913.3C624.8 917.5 623.0 920.5 619.9 925.0C616.9 929.4 613.3 935.2 608.3 939.9C603.3 944.6 593.0 951.0 590.0 953.2"/>
<path class="l" stroke-dasharray="5 3" d="M600.8 922.5C601.9 923.0 606.2 924.1 607.5 925.8C608.7 927.4 609.0 930.5 608.3 932.4C607.6 934.4 605.2 936.9 603.3 937.4C601.4 938.0 598.3 937.0 596.7 935.8C595.0 934.5 593.5 931.9 593.3 929.9C593.2 928.0 594.6 925.4 595.8 924.1C597.1 922.9 600.0 922.7 600.8 922.5"/>
<ellipse class="l" cx="600.8" cy="930.3" rx="3.0" ry="3.3" transform="rotate(0.0 600.8 930.3)"/>
<path class="b" d="M600.3 931.6L590.0 953.2"/>
<path class="l" d="M613.3 929.1L616.3 931.9"/>
<ellipse class="l" cx="646.6" cy="960.2" rx="18.6" ry="19.0" transform="rotate(0.0 646.6 960.2)"/>
<path class="l" stroke-dasharray="9 4" d="M646.6 936.9C649.3 938.0 659.3 939.8 663.2 943.6C667.1 947.4 669.9 954.4 669.9 959.9C669.9 965.4 667.1 972.6 663.2 976.5C659.3 980.5 652.1 983.5 646.6 983.5C641.0 983.5 633.8 980.4 629.9 976.5C626.0 972.6 623.3 965.7 623.3 960.2C623.3 954.7 626.0 947.5 629.9 943.6C633.8 939.7 643.8 938.0 646.6 936.9"/>
<ellipse class="l" cx="624.1" cy="947.7" rx="3.3" ry="3.7" transform="rotate(0.0 624.1 947.7)"/>
<path class="l" d="M629.9 941.6C628.8 941.5 625.2 940.1 623.3 940.8C621.3 941.5 618.8 943.7 618.3 945.7C617.7 947.8 618.7 951.6 619.9 953.2C621.2 954.9 624.8 955.3 625.8 955.7"/>
<ellipse class="l" cx="669.0" cy="973.5" rx="3.3" ry="3.7" transform="rotate(0.0 669.0 973.5)"/>
<path class="l" d="M663.2 966.5C664.6 966.4 669.3 964.9 671.5 965.7C673.7 966.5 676.0 969.5 676.5 971.5C677.1 973.6 676.2 976.7 674.8 978.2C673.5 979.6 669.3 979.9 668.2 980.2"/>
<ellipse class="l" cx="601.6" cy="971.9" rx="6.7" ry="7.0" transform="rotate(0.0 601.6 971.9)"/>
<ellipse class="l" cx="601.6" cy="971.9" rx="3.0" ry="3.3" transform="rotate(0.0 601.6 971.9)"/>
<path class="t" d="M602.0 973.2L602.0 1022.3"/>
<path class="f" d="M602.3 1029.8L598.5 1035.9L604.0 1035.9"/>
<path class="f" d="M602.3 1029.8L602.3 1037.9"/>
<path class="l" d="M590.0 977.4C591.1 977.5 594.7 977.2 596.7 978.2C598.6 979.2 600.8 982.3 601.6 983.2"/>
<path class="l" stroke-dasharray="9 4" d="M608.3 966.5C608.9 967.9 609.7 972.6 611.6 974.9C613.6 977.1 616.9 976.8 619.9 979.9C623.0 982.9 628.0 989.7 629.9 993.2C631.9 996.6 629.1 999.1 631.6 1000.6C634.1 1002.2 642.7 1002.0 644.9 1002.3"/>
<path class="l" d="M606.6 983.2L615.0 978.2"/>
<path class="l" stroke-dasharray="9 4" d="M606.6 989.8L621.6 1004.8L628.3 1000.6"/>
<path class="l" stroke-dasharray="5 3" d="M687.3 991.2C688.4 991.6 692.7 992.6 694.0 994.0C695.2 995.4 695.2 997.9 694.8 999.8C694.4 1001.8 693.4 1004.7 691.5 1005.6C689.5 1006.6 685.1 1006.6 683.2 1005.6C681.2 1004.7 680.2 1001.8 679.8 999.8C679.5 997.9 679.9 995.4 681.2 994.0C682.4 992.6 686.3 991.6 687.3 991.2"/>
<ellipse class="l" cx="687.3" cy="998.5" rx="3.3" ry="3.7" transform="rotate(0.0 687.3 998.5)"/>
<path class="t" d="M687.3 999.8L687.3 1022.3"/>
<path class="f" d="M687.5 1029.8L683.7 1035.9L689.1 1035.9"/>
<path class="f" d="M687.5 1029.8L687.5 1037.9"/>
<path class="l" d="M671.5 1003.1L679.8 1002.5"/>
<path class="l" stroke-dasharray="7 3 1.5 3" d="M694.0 1004.0L726.4 1004.8"/>
<path class="t" stroke-dasharray="2 2" d="M739.7 1005.6L770.0 1006.5"/>
<path class="l" stroke-dasharray="9 4" d="M738.1 968.2C739.9 969.0 746.4 970.2 748.9 972.7C751.4 975.2 753.0 979.7 753.0 983.2C753.0 986.7 751.4 991.2 748.9 993.7C746.4 996.2 741.7 998.2 738.1 998.2C734.5 998.2 729.7 996.2 727.2 993.7C724.8 991.2 723.1 986.7 723.1 983.2C723.1 979.7 724.8 975.2 727.2 972.7C729.7 970.2 736.3 969.0 738.1 968.2"/>
<ellipse class="l" cx="738.1" cy="983.2" rx="7.0" ry="7.3" transform="rotate(0.0 738.1 983.2)"/>
<path class="l" stroke-dasharray="9 4" d="M672.3 900.0C673.3 902.5 674.7 910.3 678.2 915.0C681.6 919.7 687.9 925.0 693.1 928.3C698.4 931.6 704.0 934.7 709.8 934.9C715.6 935.2 722.5 933.0 728.1 929.9C733.6 926.9 739.4 921.6 743.0 916.6C746.7 911.6 748.6 902.8 749.7 900.0"/>
<path class="l" stroke-dasharray="9 4" d="M684.8 900.0C685.7 901.9 686.8 908.0 689.8 911.6C692.9 915.2 698.7 919.7 703.1 921.6C707.6 923.6 711.7 924.4 716.4 923.3C721.1 922.2 727.7 918.9 731.4 915.0C735.1 911.1 737.6 902.5 738.9 900.0"/>
<path class="l" d="M763.0 900.0C763.6 900.6 765.2 902.5 766.3 903.3C767.5 904.2 769.4 904.7 770.0 905.0"/>
</g>
<g id="u06" class="low">
<path class="l" stroke-dasharray="9 4" d="M770.0 907.5L788.3 905.8L796.6 900.0"/>
<path class="l" d="M803.3 900.0C804.1 901.0 806.0 904.6 808.3 905.8C810.5 907.1 813.8 907.8 816.6 907.5C819.4 907.2 823.0 905.4 824.9 904.2C826.8 902.9 827.7 900.7 828.2 900.0"/>
<path class="l" d="M831.6 900.0C831.0 902.8 830.2 910.8 828.2 916.6C826.3 922.5 821.8 930.2 819.9 934.9C818.0 939.6 816.6 941.6 816.6 944.9C816.6 948.2 818.2 950.5 819.9 954.9C821.6 959.3 824.8 966.8 826.6 971.5C828.3 976.2 829.6 981.2 830.2 983.2"/>
<path class="b" d="M818.2 974.0C819.8 975.0 825.2 977.2 827.4 979.9C829.6 982.5 831.1 986.2 831.2 989.8C831.4 993.4 830.1 998.4 828.2 1001.5C826.3 1004.5 823.2 1006.9 819.9 1008.1C816.6 1009.4 810.2 1008.8 808.3 1009.0"/>
<path class="l" stroke-dasharray="9 4" d="M818.2 974.0C816.3 974.2 809.9 973.3 806.6 974.9C803.3 976.4 799.9 979.9 798.3 983.2C796.6 986.5 795.8 991.2 796.6 994.8C797.4 998.5 801.3 1002.8 803.3 1005.1C805.2 1007.5 807.4 1008.3 808.3 1009.0"/>
<path class="l" stroke-dasharray="9 4" d="M813.3 983.7C814.1 984.0 817.3 984.6 818.6 985.8C819.8 987.1 820.7 989.4 820.7 991.2C820.7 992.9 819.8 995.2 818.6 996.5C817.3 997.7 815.0 998.7 813.3 998.7C811.5 998.7 809.2 997.7 807.9 996.5C806.7 995.2 805.8 992.9 805.8 991.2C805.8 989.4 806.7 987.1 807.9 985.8C809.2 984.6 812.4 984.0 813.3 983.7"/>
<ellipse class="l" cx="781.3" cy="979.9" rx="8.0" ry="8.3" transform="rotate(0.0 781.3 979.9)"/>
<ellipse class="l" cx="781.3" cy="979.9" rx="4.0" ry="4.3" transform="rotate(0.0 781.3 979.9)"/>
<path class="t" d="M781.3 981.5L781.3 1022.3"/>
<path class="n" d="M779.1 1030.6C779.6 1030.4 780.9 1029.2 781.6 1029.3C782.4 1029.3 783.6 1030.2 783.6 1030.9C783.6 1031.6 781.6 1032.8 781.6 1033.6C781.7 1034.4 783.9 1035.1 784.0 1035.9C784.0 1036.7 782.8 1038.3 782.0 1038.6C781.1 1038.9 779.5 1037.7 779.0 1037.6"/>
</g>
<g id="v01">
<rect x="311.0" y="321.0" width="178.0" height="178.0" fill="#fff"/>
<path class="l" d="M310.0 364.9C311.7 364.2 316.9 361.9 320.0 360.8C323.0 359.6 325.5 359.6 328.3 358.3C331.1 356.9 331.6 356.3 336.6 352.4C341.6 348.6 351.8 340.4 358.2 335.0C364.7 329.6 372.4 322.5 375.2 320.0"/>
<ellipse class="k" cx="348.3" cy="358.3" rx="7.5" ry="4.7" transform="rotate(-8.0 348.3 358.3)"/>
<path class="l" d="M337.4 353.3C338.8 352.6 342.0 349.6 345.8 349.3C349.5 349.0 356.4 351.6 359.9 351.6C363.4 351.6 363.8 350.8 366.6 349.1C369.3 347.4 373.8 343.8 376.5 341.6C379.3 339.4 381.9 338.6 383.2 335.8C384.5 333.0 384.0 326.8 384.2 325.0"/>
<path class="b" d="M383.9 326.7L384.5 338.3"/>
<path class="l" d="M310.0 376.6L320.0 375.7"/>
<path class="l" d="M323.3 375.7L332.0 375.7"/>
<ellipse class="k" cx="394.8" cy="323.3" rx="6.7" ry="4.0" transform="rotate(-8.0 394.8 323.3)"/>
<path class="l" d="M388.2 327.5C389.6 327.8 394.0 329.4 396.5 329.1C399.0 328.9 402.1 326.4 403.2 325.8"/>
<path class="l" d="M370.7 354.1C372.8 352.0 378.9 344.7 383.2 341.6C387.5 338.6 389.3 337.3 396.5 335.8C403.7 334.3 421.5 333.0 426.5 332.5"/>
<path class="l" d="M426.5 332.5L459.7 344.1L463.0 364.9"/>
<path class="l" d="M389.9 347.4L403.2 342.5L416.5 341.0"/>
<path class="l" d="M424.8 320.0L464.0 341.1"/>
<path class="l" d="M427.1 319.0L466.5 341.8"/>
<ellipse class="k" cx="473.7" cy="354.1" rx="3.3" ry="5.3" transform="rotate(18.0 473.7 354.1)"/>
<path class="l" d="M464.0 341.1C465.7 341.8 471.0 344.3 473.9 345.0C476.7 345.6 478.7 345.8 481.3 345.0C484.0 344.1 488.6 340.8 490.0 340.0"/>
<path class="l" d="M481.3 345.0C481.9 346.3 483.2 350.8 484.7 353.3C486.1 355.8 489.1 358.8 490.0 359.9"/>
<path class="l" d="M466.4 342.0L476.4 345.0"/>
<path class="l" d="M370.7 354.1L380.7 359.9L384.0 370.7"/>
<path class="l" d="M383.2 352.4L388.2 368.2"/>
<path class="l" stroke-dasharray="9 4" d="M388.2 368.2C389.6 368.2 392.9 370.0 396.5 368.2C400.1 366.4 406.5 360.9 409.8 357.4C413.1 354.0 414.0 350.2 416.5 347.4C419.0 344.7 423.4 341.9 424.8 340.8"/>
<path class="l" d="M389.9 353.3L396.5 368.2"/>
<path class="l" d="M396.5 346.6L409.8 353.3"/>
<path class="l" d="M403.2 345.0L414.8 348.3"/>
<path class="l" d="M368.2 369.9L378.2 364.3"/>
<path class="l" d="M384.0 370.7L393.2 367.6"/>
<path class="l" d="M367.4 374.9C367.3 376.8 365.9 381.3 366.6 386.5C367.3 391.8 370.3 401.2 371.6 406.5C372.8 411.8 373.8 416.2 374.2 418.2"/>
<path class="b" d="M355.7 386.5L360.2 385.7"/>
<path class="l" d="M355.7 386.5C355.9 388.8 355.9 395.4 356.6 399.9C357.3 404.3 359.1 409.7 359.9 413.2C360.7 416.7 361.3 419.5 361.6 420.8"/>
<path class="l" d="M359.9 420.8C362.4 420.6 370.2 420.7 374.9 419.8C379.6 419.0 385.4 417.3 388.2 415.7C391.0 414.0 390.5 413.6 391.8 409.8C393.2 406.1 394.3 398.7 396.5 393.2C398.7 387.7 401.5 381.8 404.8 376.6C408.2 371.3 412.5 365.7 416.5 361.6C420.4 357.4 426.5 353.3 428.4 351.6"/>
<path class="l" d="M388.2 415.7C392.9 417.7 410.1 424.7 416.5 428.1C422.8 431.6 421.7 430.9 426.5 436.5C431.2 442.0 442.0 457.2 445.1 461.4"/>
<path class="l" d="M330.0 377.4L335.0 388.2"/>
<path class="l" d="M333.3 376.6L351.6 384.9"/>
<path class="l" d="M339.9 396.5L349.9 409.8"/>
<path class="l" d="M351.6 413.2L355.2 418.5"/>
<path class="l" d="M338.3 418.2L353.3 411.5"/>
<path class="l" d="M339.9 426.5L345.9 422.3"/>
<path class="l" d="M313.3 441.4L325.8 428.1"/>
<path class="l" d="M313.3 446.4L328.3 434.8L345.8 423.1"/>
<path class="l" d="M313.3 449.8L331.6 436.5"/>
<path class="l" d="M324.1 478.0C325.4 475.8 327.6 469.7 331.6 464.7C335.6 459.7 343.0 452.3 348.3 448.1C353.5 443.9 358.5 441.4 363.2 439.8C367.9 438.1 372.4 437.6 376.5 438.1C380.7 438.7 385.1 440.6 388.2 443.1C391.2 445.6 393.3 448.7 394.8 453.1C396.4 457.5 397.1 467.0 397.5 469.7"/>
<path class="l" d="M349.9 448.1C349.7 449.8 348.9 454.5 348.6 458.1C348.3 461.7 348.3 467.8 348.3 469.7"/>
<path class="l" d="M359.9 441.4C360.1 443.7 360.6 450.0 360.9 454.8C361.2 459.5 361.5 467.2 361.6 469.7"/>
<path class="l" d="M368.2 438.9C368.2 441.3 368.4 448.2 368.2 453.1C368.1 457.9 367.5 465.6 367.4 468.1"/>
<path class="l" d="M323.3 479.7C326.1 478.2 334.1 471.4 339.9 470.6C345.8 469.7 351.0 473.9 358.2 474.7C365.5 475.5 376.3 474.2 383.2 475.5C390.1 476.9 394.3 480.7 399.8 483.0C405.4 485.4 411.5 489.1 416.5 489.7C421.5 490.2 424.8 489.1 429.8 486.4C434.8 483.6 442.3 477.5 446.4 473.0C450.6 468.6 453.3 462.0 454.7 459.7"/>
<path class="l" d="M419.8 446.4C420.1 449.5 421.2 458.6 421.8 464.7C422.3 470.8 422.9 480.0 423.1 483.0"/>
<path class="l" d="M429.8 350.8L439.8 355.8"/>
<path class="l" d="M444.8 359.9L456.4 366.9"/>
<path class="l" d="M432.3 374.9L441.4 379.9"/>
<path class="l" d="M443.1 358.3L438.1 369.9"/>
<path class="l" d="M448.1 361.6L443.1 374.9"/>
<path class="b" d="M436.4 398.2C437.3 396.2 439.5 389.6 441.4 386.5C443.4 383.5 445.0 381.8 448.1 379.9C451.1 377.9 457.8 375.7 459.7 374.9"/>
<path class="l" d="M432.3 399.9L438.1 393.2"/>
<path class="l" d="M483.0 361.6C480.5 363.8 473.3 369.6 468.0 374.9C462.8 380.2 456.1 387.4 451.4 393.2C446.7 399.0 442.8 404.8 439.8 409.8C436.7 414.8 434.9 419.0 433.1 423.1C431.3 427.3 429.8 432.8 429.1 434.8"/>
<path class="l" d="M463.0 374.9C460.3 377.9 450.9 387.7 446.4 393.2C442.0 398.7 439.2 403.2 436.4 408.2C433.7 413.2 430.9 420.6 429.8 423.1"/>
<path class="l" d="M490.0 369.9C489.7 373.2 489.7 383.8 488.0 389.9C486.3 396.0 483.3 401.8 479.7 406.5C476.1 411.2 468.6 416.2 466.4 418.2"/>
<path class="l" d="M443.1 426.5C445.0 425.4 450.9 421.2 454.7 419.8C458.6 418.4 462.2 419.8 466.4 418.2C470.5 416.5 475.7 410.7 479.7 409.8C483.6 409.0 488.3 412.6 490.0 413.2"/>
<ellipse class="l" cx="438.9" cy="441.4" rx="3.3" ry="5.7" transform="rotate(15.0 438.9 441.4)"/>
<ellipse class="k" cx="438.4" cy="442.3" rx="1.5" ry="3.0" transform="rotate(15.0 438.4 442.3)"/>
<path class="l" d="M433.1 429.8C434.8 429.2 441.1 425.4 443.1 426.5C445.0 427.6 443.4 431.2 444.8 436.5C446.1 441.7 450.3 454.5 451.4 458.1"/>
<path class="l" d="M444.8 433.1L469.7 443.1L464.7 453.1L454.7 461.4"/>
<ellipse class="k" cx="491.7" cy="427.3" rx="5.0" ry="4.3" transform="rotate(0.0 491.7 427.3)"/>
<path class="b" d="M423.1 500.0C426.5 498.3 437.0 493.3 443.1 489.7C449.2 486.0 454.5 482.8 459.7 478.0C465.0 473.3 470.5 467.2 474.7 461.4C478.9 455.6 482.4 447.3 484.7 443.1C487.0 438.9 487.7 437.6 488.3 436.5"/>
<path class="l" d="M426.5 494.7C430.6 492.2 444.5 485.0 451.4 479.7C458.3 474.4 465.3 465.8 468.0 463.1"/>
<path class="l" d="M310.0 456.4C310.8 458.6 313.3 464.7 315.0 469.7C316.7 474.7 318.9 481.3 320.0 486.4C321.1 491.4 321.4 497.7 321.6 500.0"/>
<path class="l" d="M313.3 486.4L316.7 500.0"/>
<path class="l" d="M324.1 478.0L321.6 486.4L343.3 500.0"/>
<path class="b" d="M323.3 488.4L339.9 500.0"/>
<path class="l" d="M476.4 500.0L490.0 489.7"/>
<path class="l" d="M481.3 500.0L490.0 493.8"/>
</g>
<g id="v02">
<rect x="491.0" y="331.0" width="168.0" height="178.0" fill="#fff"/>
<path class="l" d="M491.6 358.3L491.6 385.7L515.8 398.2L520.8 394.5L520.8 379.1L516.9 371.9L491.6 358.3"/>
<path class="b" stroke-dasharray="2 2" d="M500.0 354.3L524.9 365.9L549.9 378.2"/>
<path class="l" d="M500.0 354.3L549.9 378.2"/>
<path class="l" d="M491.6 385.7L491.0 387.4"/>
<path class="l" d="M515.8 398.2L501.6 413.2L495.0 413.2"/>
<path class="l" d="M511.6 401.5L515.8 393.5L517.6 395.9"/>
<ellipse class="k" cx="537.4" cy="388.2" rx="6.3" ry="4.2" transform="rotate(-10.0 537.4 388.2)"/>
<path class="l" d="M549.9 378.2C550.4 379.4 552.8 382.7 553.2 384.9C553.6 387.1 553.5 389.3 552.4 391.6C551.3 393.8 549.5 396.1 546.5 398.2C543.6 400.3 537.9 403.2 534.9 404.0C531.9 404.9 529.6 403.3 528.6 403.2"/>
<path class="l" d="M528.6 403.2L506.6 418.2L505.0 422.5L509.1 428.2L506.6 433.1"/>
<path class="l" d="M509.1 421.8C512.9 419.3 525.3 410.0 531.6 406.9C537.8 403.8 542.3 404.9 546.5 403.2C550.8 401.5 555.1 397.7 556.9 396.5"/>
<path class="l" d="M556.9 396.5C557.1 399.3 558.8 409.2 558.2 413.2C557.6 417.2 555.9 418.6 553.2 420.7C550.5 422.7 543.8 424.8 541.9 425.7"/>
<path class="l" d="M529.9 409.9L531.6 419.8"/>
<ellipse class="k" cx="492.5" cy="427.3" rx="5.8" ry="4.0" transform="rotate(-8.0 492.5 427.3)"/>
<path class="l" d="M505.0 422.5C504.4 421.8 503.2 418.8 501.6 418.5C500.0 418.2 496.4 420.3 495.3 420.7"/>
<path class="b" d="M506.6 433.5L500.0 438.1L496.0 440.5"/>
<path class="l" d="M509.1 428.2L531.6 423.2"/>
<path class="l" d="M539.9 426.2L551.5 423.2"/>
<path class="l" d="M509.1 430.8L534.9 446.5L541.6 458.1L546.5 459.1L603.1 428.2"/>
<path class="l" d="M536.6 450.1L543.2 461.4L548.2 461.8L579.8 444.8"/>
<path class="l" d="M558.2 401.5L606.4 426.5"/>
<path class="l" d="M491.0 481.4L533.2 449.1"/>
<path class="l" d="M491.0 486.4L536.6 452.4"/>
<path class="l" d="M491.0 489.7L501.6 481.7"/>
<ellipse class="l" cx="608.1" cy="439.0" rx="6.3" ry="8.3" transform="rotate(20.0 608.1 439.0)"/>
<ellipse class="l" cx="608.4" cy="439.3" rx="2.8" ry="4.7" transform="rotate(20.0 608.4 439.3)"/>
<path class="l" d="M589.8 436.5L603.1 430.1"/>
<path class="l" d="M594.8 444.8L603.4 447.4"/>
<path class="b" d="M578.2 445.8L586.5 443.5"/>
<path class="b" d="M557.4 369.3L588.1 379.9"/>
<path class="l" d="M588.1 379.9L629.7 394.0L637.2 391.6L648.0 379.9L659.0 375.2"/>
<path class="l" d="M557.4 369.9L555.7 388.6L558.2 401.5"/>
<path class="l" d="M559.9 383.2L586.5 394.2"/>
<path class="l" d="M558.2 401.5L637.2 424.8"/>
<path class="l" d="M637.2 424.8L639.7 396.5L642.4 394.0"/>
<path class="l" d="M581.5 408.2L593.1 403.2L593.1 414.8Z"/>
<path class="l" d="M594.8 363.3C595.6 362.4 597.0 358.6 599.8 358.3C602.6 358.0 609.8 360.2 611.4 361.6C613.1 363.0 610.6 364.9 609.8 366.6C608.9 368.3 607.0 370.8 606.4 371.6"/>
<path class="b" stroke-dasharray="2 2" d="M596.5 378.6L629.7 393.2"/>
<path class="l" d="M491.0 338.7L496.6 336.7"/>
<path class="l" d="M500.0 337.0L513.3 341.6"/>
<path class="l" d="M531.6 342.5C532.8 341.9 537.5 341.1 539.1 339.1C540.6 337.2 540.4 332.4 540.7 331.0"/>
<path class="l" d="M539.9 340.0L563.2 350.8"/>
<path class="l" d="M534.9 365.8C539.6 363.7 555.7 357.6 563.2 353.3C570.7 349.0 575.7 343.7 579.8 340.0C583.9 336.3 586.5 332.5 587.8 331.0"/>
<path class="l" d="M538.2 369.9L568.2 356.6L574.8 353.3"/>
<path class="l" d="M574.8 353.3C575.9 354.4 579.0 358.6 581.5 359.9C584.0 361.3 587.3 361.9 589.8 361.6C592.3 361.3 592.8 361.9 596.5 358.3C600.1 354.7 607.9 344.5 611.4 340.0C614.9 335.4 616.4 332.5 617.4 331.0"/>
<path class="l" d="M586.5 340.0C587.9 337.8 590.9 334.7 593.1 333.3C595.3 331.9 598.1 330.8 599.8 331.7C601.4 332.5 603.7 335.8 603.1 338.3C602.6 340.8 598.9 343.9 596.5 346.6C594.0 349.4 590.1 355.0 588.1 355.0C586.2 355.0 585.1 349.1 584.8 346.6C584.5 344.1 585.1 342.2 586.5 340.0Z"/>
<path class="l" d="M594.8 346.6L599.8 343.3"/>
<path class="l" d="M603.1 353.3L611.4 359.9"/>
<path class="l" d="M613.1 363.3L646.4 378.2L659.0 365.8"/>
<path class="l" d="M613.1 362.6L636.4 333.7L638.9 331.0"/>
<path class="l" d="M659.0 346.6L643.0 349.1L649.7 351.0L659.0 353.3"/>
<path class="b" d="M639.0 331.0L659.0 340.0"/>
<ellipse class="l" cx="653.8" cy="408.2" rx="2.3" ry="5.0" transform="rotate(15.0 653.8 408.2)"/>
<path class="l" d="M643.9 409.9L648.0 416.5L656.3 414.8"/>
<path class="b" d="M611.4 422.5C611.7 421.8 612.0 419.0 613.1 418.2C614.2 417.3 616.7 416.5 618.1 417.3C619.5 418.2 620.9 422.2 621.4 423.2"/>
<path class="l" d="M621.4 423.2L637.2 424.8"/>
<path class="l" d="M614.8 424.8C615.3 425.7 615.6 428.4 618.1 429.8C620.6 431.2 627.8 432.6 629.7 433.1"/>
<path class="b" d="M618.1 436.5C620.9 437.9 631.7 442.6 634.7 444.8C637.8 447.0 633.9 448.4 636.4 449.8C638.9 451.2 645.9 452.8 649.7 453.1C653.5 453.4 657.4 451.7 659.0 451.4"/>
<path class="l" d="M659.0 429.8C658.6 430.9 656.7 434.3 656.7 436.5C656.7 438.7 658.6 442.0 659.0 443.1"/>
<path class="l" d="M606.4 453.1L596.5 464.8"/>
<path class="l" d="M618.1 455.8L628.1 458.1L616.4 469.7"/>
<path class="l" d="M578.2 463.1L593.1 461.4"/>
<path class="l" d="M581.5 468.1L593.1 465.7"/>
<path class="l" d="M584.8 473.1L591.5 471.4"/>
<path class="l" d="M558.2 456.4C558.5 457.8 558.2 462.3 559.9 464.8C561.5 467.2 564.8 469.5 568.2 471.4C571.5 473.3 577.2 474.2 579.8 476.4C582.4 478.6 583.4 479.3 584.0 484.7C584.5 490.1 583.3 505.0 583.1 509.0"/>
<path class="l" d="M561.8 458.4C562.1 459.3 562.0 461.6 563.5 463.4C565.0 465.2 567.7 467.3 570.7 469.1C573.7 470.9 578.8 471.7 581.5 474.1C584.1 476.4 585.6 477.2 586.5 483.0C587.3 488.9 586.5 504.7 586.5 509.0"/>
<path class="l" d="M546.5 461.4C547.1 463.6 549.0 471.7 549.9 474.7C550.7 477.8 551.3 478.9 551.5 479.7"/>
<path class="l" d="M545.7 476.4L546.5 509.0"/>
<path class="l" d="M551.5 484.7L553.2 509.0"/>
<ellipse class="l" cx="520.8" cy="485.5" rx="5.7" ry="8.3" transform="rotate(15.0 520.8 485.5)"/>
<ellipse class="k" cx="520.3" cy="486.4" rx="2.5" ry="4.3" transform="rotate(15.0 520.3 486.4)"/>
<path class="b" d="M529.9 470.7L534.9 474.1"/>
<path class="l" d="M505.0 479.7C506.3 482.1 509.7 491.1 513.3 493.9C516.9 496.6 522.7 497.1 526.6 496.4C530.5 495.7 534.9 490.8 536.6 489.7"/>
<path class="l" d="M501.6 485.5L506.6 509.0"/>
<path class="l" d="M496.6 489.7L500.0 509.0"/>
<path class="l" d="M624.7 509.0C625.6 506.3 627.2 497.9 629.7 493.0C632.2 488.2 635.8 483.0 639.7 479.7C643.6 476.4 649.8 474.3 653.0 473.1C656.2 471.8 658.0 472.5 659.0 472.4"/>
<path class="l" d="M629.7 509.0C630.6 506.9 632.5 500.3 634.7 496.4C636.9 492.4 639.7 488.5 643.0 485.5C646.4 482.6 652.0 480.1 654.7 478.9C657.3 477.6 658.3 478.2 659.0 478.1"/>
<path class="l" d="M636.4 509.0C636.9 507.4 637.8 502.9 639.7 499.7C641.6 496.5 644.8 492.3 648.0 489.7C651.2 487.1 657.2 485.0 659.0 484.0"/>
<path class="l" d="M596.5 479.7C598.1 480.3 603.7 481.1 606.4 483.0C609.2 485.0 611.8 488.0 613.1 491.4C614.3 494.7 614.2 500.1 613.9 503.0C613.6 506.0 611.8 508.0 611.4 509.0"/>
<path class="b" d="M599.8 489.7C601.2 490.3 606.4 491.4 608.1 493.0C609.8 494.7 609.5 498.6 609.8 499.7"/>
<path class="l" d="M598.9 496.4L599.8 503.0"/>
<path class="l" d="M589.0 331.0L598.4 346.5"/>
</g>
<g id="v03">
<rect x="600.7" y="370.7" width="118.7" height="118.7" fill="#fff"/>
<path class="l" d="M618.9 371.1L642.1 381.1"/>
<path class="b" stroke-dasharray="2 2" d="M600.0 383.3L617.7 390.0"/>
<path class="b" d="M617.7 390.0C620.1 390.6 628.8 393.8 632.2 393.8C635.5 393.8 634.9 392.3 637.7 390.0C640.5 387.7 647.0 381.6 648.8 380.0"/>
<path class="l" d="M635.5 393.8L637.7 397.7"/>
<path class="l" d="M651.0 383.9L668.8 377.2L673.2 376.1"/>
<path class="b" d="M673.2 376.1L666.5 387.7"/>
<path class="l" d="M657.7 384.4L666.5 387.7"/>
<path class="l" d="M671.0 370.7C671.3 371.5 671.0 374.4 673.2 375.5C675.4 376.7 680.8 377.9 684.3 377.8C687.8 377.6 692.1 375.6 694.3 374.4C696.4 373.3 696.7 371.3 697.2 370.7"/>
<path class="l" d="M649.9 383.9L644.9 390.5L663.8 398.3L673.8 393.8L657.7 385.0Z"/>
<path class="l" d="M642.7 395.5C645.7 396.6 657.2 400.3 660.4 402.2C663.7 404.0 662.4 404.6 662.1 406.6C661.8 408.6 660.3 412.7 658.8 414.4C657.3 416.0 655.6 416.6 653.2 416.6C650.8 416.6 645.8 414.7 644.4 414.4"/>
<path class="b" d="M642.7 395.5L637.9 423.2"/>
<ellipse class="l" cx="653.8" cy="406.8" rx="2.4" ry="4.7" transform="rotate(20.0 653.8 406.8)"/>
<ellipse class="k" cx="653.8" cy="407.0" rx="1.1" ry="2.9" transform="rotate(20.0 653.8 407.0)"/>
<path class="l" d="M642.1 408.8C642.5 409.6 643.1 412.3 644.4 413.3C645.7 414.2 649.0 414.2 649.9 414.4"/>
<path class="l" d="M673.8 393.8C674.4 396.0 676.8 402.3 677.6 406.6C678.5 410.9 678.9 415.7 679.0 419.9C679.1 424.2 678.6 429.1 678.2 432.1C677.8 435.1 676.8 436.9 676.5 437.9"/>
<path class="l" d="M660.4 403.3C660.0 405.5 659.4 412.7 657.7 416.6C655.9 420.5 653.0 423.5 649.9 426.6C646.8 429.6 640.7 433.6 638.8 435.0"/>
<path class="b" d="M657.1 431.0C657.4 432.3 657.8 436.7 658.8 438.8C659.8 440.8 661.6 442.6 663.2 443.2C664.9 443.8 667.8 442.3 668.8 442.1"/>
<path class="l" d="M657.7 429.9C658.4 428.4 660.3 422.8 662.1 421.0C664.0 419.3 666.8 418.8 668.8 419.4C670.8 419.9 673.2 423.7 674.1 424.6"/>
<ellipse class="l" cx="666.5" cy="432.7" rx="4.7" ry="7.1" transform="rotate(20.0 666.5 432.7)"/>
<path class="l" d="M671.0 425.5C671.4 426.6 673.4 429.7 673.4 432.1C673.4 434.5 671.4 438.6 671.0 439.9"/>
<path class="b" d="M610.5 422.1C610.7 421.4 610.8 418.6 611.6 417.7C612.5 416.8 611.4 415.5 615.5 416.6C619.7 417.7 633.1 423.0 636.6 424.3"/>
<path class="l" d="M636.6 424.3L638.4 423.2"/>
<path class="l" d="M610.5 422.1C611.2 423.4 613.4 428.2 614.4 429.9C615.5 431.6 616.5 431.7 616.9 432.1"/>
<path class="l" d="M616.6 422.1L617.7 426.6"/>
<path class="b" d="M622.2 422.3L628.8 425.5"/>
<path class="b" d="M616.6 433.2L631.1 441.0L633.3 442.1"/>
<ellipse class="l" cx="606.9" cy="439.0" rx="6.1" ry="8.9" transform="rotate(20.0 606.9 439.0)"/>
<ellipse class="l" cx="607.1" cy="439.2" rx="2.4" ry="4.9" transform="rotate(20.0 607.1 439.2)"/>
<ellipse class="k" cx="607.1" cy="439.4" rx="1.1" ry="3.1" transform="rotate(20.0 607.1 439.4)"/>
<path class="l" d="M614.4 443.2L632.2 452.1L633.3 443.4"/>
<path class="b" d="M633.3 442.1C633.5 443.4 632.5 448.2 634.4 449.9C636.2 451.5 641.2 451.3 644.4 452.1C647.5 452.8 650.6 452.6 653.2 454.3C655.8 456.0 657.7 459.5 659.9 462.1C662.1 464.6 665.4 468.5 666.5 469.8"/>
<path class="l" d="M636.6 443.4C638.3 444.5 643.1 447.9 646.6 449.9C650.1 451.8 654.7 453.0 657.7 455.4C660.6 457.8 662.6 461.7 664.3 464.3C666.0 466.9 667.3 469.8 667.9 470.9"/>
<path class="l" d="M633.3 441.0L646.6 446.5"/>
<path class="l" d="M677.6 441.0L719.3 459.6"/>
<path class="l" d="M656.6 449.3L709.8 472.6L715.3 471.5L719.3 468.7"/>
<path class="l" d="M610.5 453.2L618.9 457.6"/>
<path class="l" d="M606.7 457.6L600.7 462.7"/>
<path class="l" d="M627.7 457.6L614.4 470.9"/>
<path class="l" d="M649.9 472.0C651.9 471.8 658.6 470.2 662.1 470.9C665.6 471.7 668.8 473.4 671.0 476.5C673.2 479.5 674.7 487.2 675.4 489.3"/>
<path class="l" d="M636.6 482.0C638.8 481.1 645.7 477.6 649.9 476.5C654.2 475.4 658.8 474.6 662.1 475.4C665.4 476.1 668.2 478.6 669.9 480.9C671.5 483.2 671.7 487.9 672.1 489.3"/>
<path class="l" d="M633.3 487.6C635.1 486.5 640.3 482.4 644.4 480.9C648.4 479.4 654.0 478.1 657.7 478.7C661.4 479.2 664.8 482.5 666.5 484.2C668.2 486.0 667.7 488.5 667.9 489.3"/>
<path class="l" d="M629.9 489.3C631.1 488.9 634.6 487.1 636.6 486.5C638.6 485.8 641.2 485.5 642.1 485.3"/>
<path class="b" d="M600.7 483.3C601.7 483.9 605.1 485.5 606.7 486.5C608.2 487.4 609.4 488.9 610.0 489.3"/>
<path class="b" d="M699.8 476.5C700.6 476.1 702.8 474.3 704.3 474.3C705.7 474.3 707.9 476.1 708.7 476.5"/>
<ellipse class="l" cx="704.3" cy="482.0" rx="4.4" ry="5.5" transform="rotate(20.0 704.3 482.0)"/>
<ellipse class="k" cx="704.3" cy="482.2" rx="2.0" ry="3.1" transform="rotate(20.0 704.3 482.2)"/>
<path class="l" d="M687.6 484.2L692.1 482.2"/>
<path class="l" d="M694.3 487.6L697.6 485.3"/>
</g>
<g id="v04">
<rect x="559.1" y="521.0" width="149.9" height="178.0" fill="#fff"/>
<path class="l" d="M580.7 521.0C580.5 524.2 580.3 531.0 579.1 540.0C577.8 548.9 576.2 563.8 573.3 574.9C570.3 586.0 566.0 597.4 561.6 606.5C557.2 615.7 550.5 623.7 546.6 629.8C542.8 635.9 539.7 640.9 538.3 643.1"/>
<path class="l" d="M584.1 521.0C583.8 524.2 583.7 531.0 582.4 540.0C581.2 548.9 579.4 564.1 576.6 574.9C573.8 585.7 569.9 596.0 565.8 604.8C561.6 613.7 555.5 622.3 551.6 628.1C547.7 634.0 544.0 638.1 542.5 640.1"/>
<path class="b" d="M573.6 574.9L571.6 584.0"/>
<path class="l" d="M585.7 535.8L604.0 545.0"/>
<path class="b" d="M604.0 545.8L579.9 564.6"/>
<path class="l" d="M604.0 545.8L608.2 555.8"/>
<path class="b" d="M586.6 521.0C587.7 521.9 590.7 526.0 593.2 526.7C595.7 527.3 599.4 525.9 601.5 525.0C603.7 524.0 605.4 521.7 606.2 521.0"/>
<path class="l" d="M611.5 535.0C612.1 537.2 612.9 544.7 614.8 548.3C616.8 551.9 619.6 554.7 623.2 556.6C626.8 558.5 634.3 559.4 636.5 559.9"/>
<path class="l" d="M616.5 533.3C617.1 535.5 618.2 543.2 619.8 546.6C621.5 550.1 623.2 552.3 626.5 554.1C629.8 555.9 637.6 556.9 639.8 557.4"/>
<path class="l" d="M621.5 530.0C621.9 531.9 622.3 538.0 624.0 541.6C625.7 545.2 628.0 549.7 631.5 551.6C634.9 553.5 640.1 554.7 644.8 553.3C649.5 551.9 655.6 547.2 659.8 543.3C663.9 539.4 667.6 533.7 669.7 530.0C671.9 526.3 672.2 522.5 672.7 521.0"/>
<path class="l" d="M626.5 521.0C626.8 523.0 626.8 529.3 628.2 533.3C629.5 537.3 631.8 542.7 634.8 545.0C637.9 547.2 642.6 547.7 646.5 546.6C650.3 545.5 654.8 541.9 658.1 538.3C661.4 534.7 664.8 527.9 666.4 525.0C668.1 522.1 667.8 521.7 668.1 521.0"/>
<path class="l" d="M636.5 545.0C638.7 544.1 645.6 542.7 649.8 540.0C653.9 537.2 659.2 531.5 661.4 528.3C663.6 525.2 662.8 522.2 663.1 521.0"/>
<path class="b" d="M663.1 538.3L670.1 528.3"/>
<path class="l" d="M663.1 564.9C661.1 561.6 660.6 557.4 661.4 553.3C662.3 549.1 665.3 543.4 668.1 540.0C670.9 536.5 674.5 533.7 678.1 532.5C681.7 531.2 686.4 531.2 689.7 532.5C693.0 533.7 696.4 536.5 698.0 540.0C699.7 543.4 700.2 548.8 699.7 553.3C699.1 557.7 697.2 563.1 694.7 566.6C692.2 570.0 688.3 573.0 684.7 574.1C681.1 575.2 676.7 574.8 673.1 573.2C669.5 571.7 665.0 568.2 663.1 564.9Z"/>
<path class="l" d="M689.7 546.6C688.6 546.6 684.9 545.5 683.0 546.6C681.2 547.7 679.2 550.8 678.9 553.3C678.6 555.8 679.9 559.9 681.4 561.6C682.9 563.3 686.9 563.3 688.0 563.6"/>
<path class="t" d="M686.4 554.1L701.3 561.6"/>
<path class="l" d="M673.1 531.6C671.4 533.6 665.6 539.1 663.1 543.3C660.6 547.4 658.9 552.9 658.1 556.6C657.3 560.3 658.1 563.8 658.1 565.2"/>
<path class="b" d="M674.7 521.0L684.7 530.3"/>
<path class="l" d="M679.7 521.0L683.0 526.7"/>
<path class="l" d="M658.1 568.6L694.7 586.9"/>
<path class="b" d="M658.1 567.6L668.4 573.2"/>
<path class="l" d="M669.7 599.2L682.4 604.8"/>
<ellipse class="l" cx="688.0" cy="597.4" rx="5.7" ry="8.3" transform="rotate(20.0 688.0 597.4)"/>
<ellipse class="k" cx="688.0" cy="597.7" rx="2.3" ry="4.0" transform="rotate(20.0 688.0 597.7)"/>
<path class="l" d="M594.9 571.6C595.7 570.2 597.4 565.2 599.9 563.3C602.4 561.3 606.5 559.8 609.9 559.9C613.2 560.1 617.2 561.6 619.8 564.1C622.5 566.6 625.1 571.2 625.7 574.9C626.2 578.6 625.0 583.2 623.2 586.5C621.4 589.9 618.2 593.0 614.8 594.9C611.5 596.7 606.5 597.2 603.2 597.5C599.9 597.8 596.5 596.7 595.2 596.5"/>
<path class="l" d="M599.9 585.7C600.4 586.4 603.0 588.7 603.2 589.9C603.4 591.0 601.3 592.1 600.9 592.5"/>
<ellipse class="k" cx="625.7" cy="568.2" rx="2.2" ry="4.7" transform="rotate(15.0 625.7 568.2)"/>
<path class="l" d="M643.1 606.5C643.1 602.9 643.4 596.8 644.8 593.2C646.2 589.6 648.7 586.7 651.4 584.9C654.2 583.1 658.5 581.8 661.4 582.4C664.3 582.9 667.8 585.0 668.9 588.2C670.0 591.4 669.3 597.4 668.1 601.5C666.8 605.7 664.2 610.4 661.4 613.2C658.7 615.9 654.2 617.9 651.4 618.2C648.7 618.4 646.2 616.8 644.8 614.8C643.4 612.9 643.1 610.1 643.1 606.5Z"/>
<path class="l" d="M646.5 606.5C646.7 604.6 646.9 598.0 648.1 594.9C649.4 591.7 651.6 588.9 653.9 587.4C656.3 585.9 660.9 586.1 662.3 585.9"/>
<path class="l" d="M606.5 555.8C608.2 556.2 612.6 556.7 616.5 558.3C620.4 559.8 626.5 563.0 629.8 564.9C633.1 566.9 635.4 569.1 636.5 569.9"/>
<path class="l" d="M631.5 563.3C632.6 565.7 635.6 575.5 638.1 578.2C640.6 581.0 645.1 579.6 646.5 579.9"/>
<path class="l" d="M644.8 561.6C645.6 564.1 647.8 574.6 649.8 576.6C651.7 578.5 655.7 575.8 656.4 573.2C657.2 570.6 654.5 563.0 654.1 560.9"/>
<path class="l" d="M638.1 564.9L636.5 571.6"/>
<path class="l" d="M646.5 559.9L648.1 574.9"/>
<path class="l" d="M626.5 594.9L625.8 604.8"/>
<path class="l" d="M591.6 613.2C593.8 614.5 600.4 620.9 604.9 621.5C609.3 622.0 614.3 618.3 618.2 616.5C622.1 614.7 624.8 611.2 628.2 610.7C631.5 610.1 635.4 612.3 638.1 613.2C640.9 614.0 643.7 615.4 644.8 615.8"/>
<path class="l" d="M573.3 583.2C574.4 582.4 577.6 578.2 579.9 578.2C582.3 578.2 585.5 580.4 587.4 583.2C589.3 586.0 590.6 590.4 591.6 594.9C592.5 599.3 593.8 605.4 593.2 609.8C592.7 614.3 590.4 617.6 588.2 621.5C586.0 625.4 584.1 629.2 579.9 633.1C575.7 637.0 568.5 642.0 563.3 644.8C558.0 647.5 552.2 649.4 548.3 649.8C544.4 650.1 541.6 647.9 540.0 646.8C538.3 645.7 538.6 643.7 538.3 643.1"/>
<path class="l" d="M568.3 591.5C569.9 590.7 575.5 586.0 578.2 586.5C581.0 587.1 584.1 591.0 584.9 594.9C585.7 598.7 585.5 605.1 583.2 609.8C581.0 614.5 574.9 620.3 571.6 623.1C568.3 626.0 564.7 626.2 563.3 626.8"/>
<path class="l" d="M551.6 626.5C552.2 627.9 552.5 633.4 555.0 634.8C557.4 636.2 562.4 636.2 566.6 634.8C570.8 633.4 576.9 629.2 579.9 626.5C583.0 623.7 584.1 619.5 584.9 618.2"/>
<path class="l" d="M548.3 636.5C550.5 637.1 556.9 640.7 561.6 640.1C566.3 639.6 574.1 634.3 576.6 633.1"/>
<ellipse class="k" cx="588.2" cy="613.2" rx="3.3" ry="2.0" transform="rotate(30.0 588.2 613.2)"/>
<path class="b" d="M578.2 618.5L586.6 614.8"/>
</g>
<g id="v05">
<rect x="615.5" y="470.0" width="95.4" height="104.4" fill="#fff"/>
<path class="b" d="M626.6 512.7C627.3 509.0 628.1 503.6 629.9 499.4C631.8 495.1 634.6 490.3 637.7 487.2C640.9 484.0 645.1 481.7 648.8 480.5C652.5 479.3 656.6 479.4 659.9 480.0C663.2 480.5 666.4 481.7 668.8 483.8C671.2 486.0 673.0 489.2 674.3 492.7C675.6 496.2 676.3 500.8 676.5 504.9C676.7 509.0 676.5 512.9 675.4 517.1C674.3 521.4 672.1 526.3 669.9 530.4C667.7 534.5 665.1 538.2 662.1 541.5C659.1 544.8 655.5 548.3 652.1 550.4C648.8 552.5 645.3 553.9 642.1 554.3C639.0 554.6 635.7 554.0 633.3 552.6C630.9 551.2 629.0 549.3 627.7 545.9C626.4 542.6 625.8 536.7 625.5 532.6C625.2 528.6 625.5 524.9 625.7 521.5C625.9 518.2 625.9 516.4 626.6 512.7Z"/>
<path class="l" d="M628.5 513.8C629.1 510.1 630.1 504.5 631.8 500.5C633.6 496.4 636.2 492.4 639.0 489.6C641.9 486.8 645.5 484.6 648.8 483.5C652.1 482.4 655.8 482.5 658.8 482.9C661.7 483.4 664.4 484.4 666.5 486.3C668.7 488.1 670.4 490.9 671.5 494.0C672.7 497.1 673.5 501.2 673.6 504.9C673.8 508.7 673.5 512.6 672.5 516.6C671.5 520.5 669.7 525.0 667.7 528.8C665.6 532.5 663.2 536.1 660.4 539.3C657.7 542.4 654.1 545.6 651.0 547.6C648.0 549.6 644.9 551.1 642.1 551.5C639.4 551.9 636.6 551.1 634.6 549.8C632.6 548.5 631.1 546.6 629.9 543.7C628.8 540.9 628.3 536.1 627.9 532.6C627.6 529.1 627.9 525.8 627.9 522.7C628.0 519.5 627.9 517.5 628.5 513.8Z"/>
<path class="l" d="M656.6 488.3C656.4 490.7 656.6 497.5 655.5 502.7C654.3 507.9 652.3 514.3 649.9 519.3C647.5 524.3 644.5 528.8 641.0 532.6C637.6 536.5 631.1 541.0 629.1 542.6"/>
<path class="l" d="M663.2 487.2C663.4 489.6 664.9 496.4 664.3 501.6C663.8 506.8 662.1 512.9 659.9 518.2C657.7 523.6 654.5 529.3 651.0 533.7C647.5 538.2 641.0 543.0 639.0 544.8"/>
<path class="l" d="M632.2 547.1L636.6 548.2"/>
<path class="l" d="M622.2 500.5C623.3 498.4 626.2 491.8 628.8 488.3C631.4 484.8 635.1 481.4 637.7 479.4C640.3 477.4 643.4 476.6 644.6 476.1"/>
<path class="l" d="M625.5 503.8C626.6 501.8 629.6 495.1 632.2 491.6C634.8 488.1 637.7 484.9 641.0 482.7C644.4 480.5 648.6 479.1 652.1 478.3C655.6 477.5 660.4 477.9 662.1 477.8"/>
<path class="b" d="M650.5 471.6C652.4 471.7 658.7 471.1 662.1 472.2C665.5 473.3 668.8 475.8 671.0 478.3C673.2 480.8 674.3 484.2 675.4 487.2C676.5 490.2 677.3 494.7 677.6 496.3"/>
<path class="l" d="M612.2 534.9C612.4 536.5 612.2 541.7 613.3 544.8C614.4 548.0 616.5 551.3 618.9 553.7C621.3 556.1 624.7 558.1 627.7 559.3C630.7 560.4 635.3 560.2 636.8 560.4"/>
<path class="l" d="M617.7 531.5C617.9 533.4 617.9 539.3 618.9 542.6C619.8 545.9 621.0 549.1 623.3 551.5C625.5 553.9 630.9 556.1 632.4 557.0"/>
<path class="l" d="M621.6 537.1C622.0 538.7 622.6 544.3 623.8 547.1C625.1 549.8 628.2 552.6 629.1 553.7"/>
<path class="b" d="M677.6 507.1L685.4 530.4"/>
<path class="l" d="M676.5 517.1L682.1 531.5"/>
<path class="l" d="M665.4 543.7C666.0 542.8 666.7 540.0 668.8 538.2C670.8 536.3 674.5 533.7 677.6 532.6C680.8 531.5 684.7 531.0 687.6 531.5C690.6 532.1 693.5 533.6 695.4 536.0C697.2 538.4 698.5 542.4 698.7 545.9C698.9 549.5 698.2 553.5 696.5 557.0C694.8 560.5 691.5 564.8 688.7 567.0C686.0 569.2 682.8 570.2 679.9 570.3C676.9 570.5 673.2 569.6 671.0 568.1C668.8 566.7 667.3 562.8 666.5 561.7"/>
<path class="l" d="M672.1 531.5C670.8 533.0 666.4 537.1 664.3 540.4C662.3 543.7 660.7 548.0 659.9 551.5C659.1 555.0 659.0 558.7 659.3 561.5C659.7 564.3 661.6 567.2 662.1 568.3"/>
<path class="l" d="M676.5 532.6C675.2 533.9 670.6 537.4 668.8 540.4C666.9 543.4 666.0 548.9 665.4 550.6"/>
<path class="l" d="M690.9 545.9C690.0 545.8 687.2 544.3 685.4 544.8C683.5 545.4 681.0 547.2 679.9 549.3C678.7 551.3 678.4 554.8 678.7 557.0C679.1 559.3 680.6 561.8 682.1 562.6C683.6 563.3 686.9 561.7 687.8 561.5"/>
<path class="t" d="M685.4 553.7L701.1 562.6"/>
<path class="l" d="M674.3 529.3L681.0 532.6"/>
<path class="h" d="M666.5 532.6L663.2 540.6"/>
<path class="b" d="M657.7 564.8L664.3 569.5"/>
<path class="b" d="M677.6 496.3C679.5 495.1 686.7 491.6 688.7 489.6C690.8 487.6 689.6 485.0 689.8 484.1"/>
<path class="l" d="M677.6 494.0L687.6 488.5"/>
<ellipse class="b" cx="702.0" cy="482.7" rx="5.0" ry="6.1" transform="rotate(25.0 702.0 482.7)"/>
<ellipse class="k" cx="701.8" cy="482.9" rx="2.4" ry="3.5" transform="rotate(25.0 701.8 482.9)"/>
<path class="l" d="M633.3 561.5L635.5 574.3"/>
<path class="l" d="M643.3 559.3L646.6 574.3"/>
<path class="l" d="M647.1 555.4L651.0 574.3"/>
<path class="b" d="M620.5 565.9C621.3 565.9 624.1 565.2 625.5 565.9C626.9 566.6 628.5 568.9 628.8 570.3C629.2 571.7 627.9 573.7 627.7 574.3"/>
<path class="l" d="M615.5 564.2L620.5 565.9"/>
</g>
<g id="v06">
<rect x="313.8" y="576.6" width="44.4" height="41.5" fill="#fff"/>
<path class="l" d="M315.5 606.5C315.7 604.7 315.2 599.1 316.6 595.5C318.1 591.8 321.3 587.1 324.4 584.4C327.5 581.6 331.6 579.4 335.5 578.8C339.4 578.3 344.7 579.3 347.7 581.0C350.6 582.8 352.3 587.9 353.2 589.2"/>
<ellipse class="l" cx="341.0" cy="599.9" rx="7.1" ry="10.6" transform="rotate(15.0 341.0 599.9)"/>
<ellipse class="l" cx="341.5" cy="600.3" rx="3.8" ry="6.7" transform="rotate(15.0 341.5 600.3)"/>
<path class="l" d="M353.7 582.1L354.6 606.5"/>
<path class="b" d="M326.6 613.2C328.7 613.8 335.3 617.0 338.8 616.7C342.4 616.5 346.4 612.3 347.9 611.4"/>
<path class="l" d="M347.7 605.7L366.5 616.7"/>
<path class="l" d="M322.2 587.7C321.9 589.4 320.4 594.3 320.4 597.7C320.4 601.0 321.9 606.0 322.2 607.7"/>
<path class="l" d="M328.8 583.3C328.4 585.3 326.4 591.2 326.2 595.5C326.0 599.7 327.5 606.5 327.7 608.8"/>
<path class="l" stroke-dasharray="9 4" d="M314.4 608.8L317.7 595.5L328.8 584.4"/>
<path class="l" d="M354.6 606.5L358.1 609.2"/>
</g>
<g id="v07">
<path class="l" d="M219.9 484.8C219.5 486.7 218.0 492.8 217.4 496.4C216.9 500.0 216.5 502.5 216.6 506.4C216.8 510.3 217.2 515.8 218.3 519.7C219.4 523.6 221.3 526.9 223.3 529.7C225.2 532.5 228.8 535.5 229.9 536.7"/>
<path class="l" d="M268.2 455.2L291.8 468.1"/>
<path class="b" d="M215.0 530.0L220.3 533.0"/>
<path class="l" d="M220.3 533.0L228.6 540.0"/>
</g>
<g id="v08">
<path class="l" d="M450.5 583.8C450.6 579.0 451.3 573.4 452.7 568.2C454.2 563.1 456.6 557.5 459.4 552.7C462.2 547.9 465.7 543.1 469.4 539.4C473.1 535.7 477.5 532.5 481.6 530.5C485.6 528.6 490.1 527.6 493.8 527.8C497.5 527.9 501.0 529.3 503.8 531.6C506.5 533.9 509.0 537.7 510.4 541.6C511.8 545.5 512.3 550.3 512.1 554.9C511.9 559.5 510.9 564.5 509.3 569.3C507.7 574.1 505.4 579.3 502.7 583.8C499.9 588.2 496.4 592.4 492.7 596.0C489.0 599.5 484.5 602.7 480.5 604.8C476.4 607.0 472.0 608.5 468.3 608.7C464.6 608.9 461.0 607.9 458.3 605.9C455.6 604.0 453.5 600.8 452.2 597.1C450.9 593.4 450.4 588.6 450.5 583.8Z"/>
<path class="l" d="M453.3 583.8C453.4 579.3 454.0 573.9 455.4 568.9C456.8 563.9 459.0 558.6 461.6 554.0C464.2 549.5 467.6 545.1 471.0 541.6C474.5 538.1 478.7 535.0 482.5 533.2C486.2 531.3 490.3 530.4 493.6 530.5C496.8 530.6 499.8 531.8 502.2 533.9C504.6 535.9 506.8 539.2 508.0 542.7C509.2 546.2 509.7 550.6 509.5 554.9C509.3 559.3 508.4 564.1 506.9 568.7C505.4 573.2 503.1 578.0 500.4 582.2C497.8 586.4 494.5 590.4 491.0 593.7C487.5 597.1 483.3 600.1 479.6 602.2C475.8 604.2 471.8 605.7 468.5 605.9C465.2 606.2 462.2 605.2 460.0 603.5C457.7 601.8 455.9 599.0 454.7 595.7C453.6 592.4 453.2 588.2 453.3 583.8Z"/>
<path class="h" d="M510.6 547.2C510.8 548.8 511.7 553.8 511.5 557.1C511.3 560.5 509.7 565.5 509.3 567.1"/>
<path class="h" d="M502.7 579.3L493.2 594.3"/>
<path class="l" d="M492.7 531.6C492.3 534.0 491.9 540.9 490.5 546.1C489.0 551.2 486.8 556.8 483.8 562.7C480.8 568.6 477.1 575.8 472.7 581.5C468.3 587.3 460.0 594.5 457.4 597.1"/>
<path class="l" d="M497.1 532.7C497.3 535.3 499.1 542.5 498.2 548.3C497.3 554.0 494.7 560.8 491.6 567.1C488.4 573.4 484.5 580.8 479.4 586.0C474.2 591.2 463.8 596.1 460.7 598.2"/>
<path class="b" d="M485.1 526.1C486.4 525.9 490.1 525.3 492.7 525.2C495.2 525.1 499.1 525.6 500.4 525.6"/>
<path class="b" d="M515.1 552.9L522.6 557.1"/>
<path class="b" d="M516.0 569.3C516.9 569.7 520.8 570.1 521.5 571.6C522.2 573.0 520.6 577.1 520.4 578.2"/>
</g>
<g id="v09">
<rect x="572.2" y="292.2" width="67.1" height="65.4" fill="#fff"/>
<path class="b" d="M624.3 290.5C625.4 290.2 628.8 288.2 631.0 288.3C633.2 288.4 636.2 289.1 637.6 291.1C639.1 293.0 639.6 297.2 639.9 300.0C640.1 302.7 639.1 306.4 639.0 307.7"/>
<path class="l" d="M572.2 301.6L574.2 304.6"/>
<path class="l" d="M577.7 309.1L589.9 327.7L598.8 345.4"/>
<path class="b" d="M572.2 292.0L601.0 303.3"/>
<path class="l" d="M618.8 315.5C619.1 314.0 619.3 309.0 620.4 306.6C621.6 304.2 623.7 302.0 625.4 301.1C627.2 300.1 629.7 300.0 631.0 301.1C632.3 302.2 633.2 305.7 633.2 307.7C633.2 309.8 631.3 312.5 631.0 313.5"/>
<path class="l" d="M619.9 296.6L613.5 304.4"/>
<path class="l" d="M639.0 307.7C638.7 308.7 639.3 310.9 637.6 313.3C635.9 315.6 631.3 320.8 628.8 321.7C626.2 322.6 623.7 320.2 622.1 318.8C620.5 317.4 619.6 315.3 619.3 313.3C619.1 311.2 620.3 307.7 620.4 306.6"/>
<path class="l" d="M620.4 322.8L636.5 331.6"/>
<path class="l" d="M622.1 325.5L637.6 332.8"/>
<path class="l" stroke-dasharray="9 4" d="M618.8 296.6L608.8 306.6L598.8 317.7L589.9 326.6L582.2 335.5L572.2 345.7"/>
<path class="l" d="M603.3 324.4C604.5 323.3 606.8 320.9 608.8 320.5C610.8 320.1 613.8 320.8 615.5 322.1C617.1 323.5 618.4 326.6 618.8 328.8C619.1 331.0 618.8 333.2 617.7 335.5C616.6 337.7 614.0 340.1 612.1 342.1C610.3 344.1 608.1 347.7 606.6 347.7C605.1 347.7 604.3 344.5 603.3 342.1C602.2 339.7 600.8 335.8 600.5 333.2C600.2 330.6 601.1 328.1 601.6 326.6C602.1 325.1 602.1 325.4 603.3 324.4Z"/>
<path class="l" d="M603.8 324.6L617.7 331.0L613.2 323.3Z"/>
<path class="l" d="M583.8 347.7C583.9 345.2 584.3 341.7 585.5 339.9C586.7 338.0 589.2 336.7 591.1 336.6C592.9 336.4 595.3 337.3 596.6 338.8C597.9 340.3 599.0 343.2 598.8 345.4C598.6 347.7 597.0 350.2 595.5 352.1C594.0 353.9 591.7 356.2 589.9 356.5C588.2 356.9 586.0 355.8 585.0 354.3C583.9 352.8 583.8 350.1 583.8 347.7Z"/>
<path class="l" d="M592.2 346.5L595.5 347.9L598.8 343.2"/>
<path class="l" d="M572.2 346.5C572.8 348.2 573.9 354.1 575.5 356.5C577.2 358.9 579.8 360.2 582.2 361.0C584.6 361.7 587.4 361.7 589.9 361.0C592.5 360.2 595.3 358.6 597.7 356.5C600.1 354.5 603.3 350.1 604.4 348.8"/>
<path class="l" d="M606.6 347.9L620.4 333.2L620.4 323.3"/>
<path class="l" d="M642.3 332.1L613.0 362.6"/>
<path class="l" d="M602.7 352.6L614.3 359.3"/>
<path class="l" d="M593.3 357.6L596.6 356.5L611.0 360.1"/>
<path class="l" d="M637.6 332.8L642.3 332.1"/>
</g>
<!--POST-->
<g id="bolttips">
<!-- bolt 6 tip -->
<polygon points="726,352 731,347.4 737.6,347.4 761,358.8 760,362 752.5,360 755,373.8 726.5,362" fill="#fff"/>
<path d="M727.3 361.2 L728.6 352 L731.8 348.4 L737 348.4" fill="none" stroke="#050505" stroke-width="2.4" stroke-linejoin="round" stroke-linecap="round"/>
<path d="M737 348.8 L759.6 360" fill="none" stroke="#050505" stroke-width="3.2" stroke-linecap="round"/>
<path d="M728 362 L753.4 372.6" fill="none" stroke="#050505" stroke-width="4.2" stroke-linecap="round"/>
<path d="M730.5 355.5 L751.5 365.2" fill="none" stroke="#050505" stroke-width="4.6" stroke-dasharray="1.5 0.7"/>
<path d="M753.8 372.8 L785 387 M760 360.2 L785 371" fill="none" stroke="#050505" stroke-width="1.7"/>
<!-- bolt 7 tip -->
<polygon points="704,571 706,564.8 711,561.4 715.6,561.6 740.6,575.8 739,579.6 733,577.5 735,590.5 704.8,576.5" fill="#fff"/>
<path d="M705.6 572 L707 565.8 L711.2 562.6 L715 562.8" fill="none" stroke="#050505" stroke-width="2.6" stroke-linejoin="round" stroke-linecap="round"/>
<path d="M715 563 L739 576.4" fill="none" stroke="#050505" stroke-width="3.2" stroke-linecap="round"/>
<path d="M706.4 575.2 L733.6 588.8" fill="none" stroke="#050505" stroke-width="4.4" stroke-linecap="round"/>
<path d="M709 569.6 L732.5 581.6" fill="none" stroke="#050505" stroke-width="4.6" stroke-dasharray="1.5 0.7"/>
<path d="M733.8 589 L765 606" fill="none" stroke="#050505" stroke-width="2"/>
<path d="M739.6 576.8 L765 588.4" fill="none" stroke="#050505" stroke-width="1.5"/>
<!-- bolt 5 tip -->
<polygon points="339.6,703 340.6,696.8 345.6,692 351.8,691.2 376.6,706.6 375,710 369,708.6 369.5,725 340,708.5" fill="#fff"/>
<path d="M341.2 703.4 L342 697.5 L346.2 693.4 L351.3 692.7" fill="none" stroke="#050505" stroke-width="2.8" stroke-linejoin="round" stroke-linecap="round"/>
<path d="M351.3 693 L375 707.2" fill="none" stroke="#050505" stroke-width="3.2" stroke-linecap="round"/>
<path d="M341.8 707 L367.4 722.4" fill="none" stroke="#050505" stroke-width="3.4" stroke-linecap="round"/>
<path d="M348 705.4 L369 712.6" fill="none" stroke="#111" stroke-width="2.2" stroke-dasharray="0.9 2.2"/>
<path d="M367.5 722.7 L400 742.2" fill="none" stroke="#050505" stroke-width="1.9"/>
<path d="M383 711.8 L400 722" fill="none" stroke="#050505" stroke-width="1.5"/>
</g>
</svg>
</body>
</html>
